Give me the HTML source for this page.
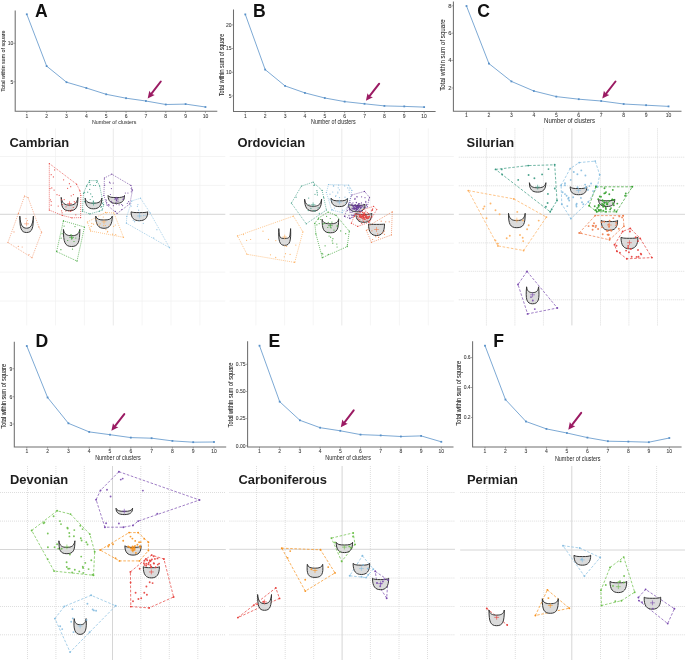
<!DOCTYPE html>
<html><head><meta charset="utf-8"><title>Figure</title>
<style>
html,body{margin:0;padding:0;background:#fff;}
body{width:685px;height:660px;overflow:hidden;}
svg{display:block;font-family:"Liberation Sans", sans-serif;will-change:transform;}
</style></head>
<body>
<svg width="685" height="660" viewBox="0 0 685 660">
<rect width="685" height="660" fill="#fff"/>
<line x1="26.7" y1="128.4" x2="26.7" y2="325.4" stroke="#f2f2f2" stroke-width="0.8"/>
<line x1="55.5" y1="128.4" x2="55.5" y2="325.4" stroke="#f2f2f2" stroke-width="0.8"/>
<line x1="84.4" y1="128.4" x2="84.4" y2="325.4" stroke="#f2f2f2" stroke-width="0.8"/>
<line x1="113.3" y1="128.4" x2="113.3" y2="325.4" stroke="#ebebeb" stroke-width="1.1"/>
<line x1="142.1" y1="128.4" x2="142.1" y2="325.4" stroke="#f2f2f2" stroke-width="0.8"/>
<line x1="171.0" y1="128.4" x2="171.0" y2="325.4" stroke="#f2f2f2" stroke-width="0.8"/>
<line x1="199.9" y1="128.4" x2="199.9" y2="325.4" stroke="#f2f2f2" stroke-width="0.8"/>
<line x1="0" y1="156.5" x2="225.3" y2="156.5" stroke="#f1f1f1" stroke-width="0.8"/>
<line x1="0" y1="185.4" x2="225.3" y2="185.4" stroke="#f1f1f1" stroke-width="0.8"/>
<line x1="0" y1="214.3" x2="225.3" y2="214.3" stroke="#d0d0d0" stroke-width="0.9"/>
<line x1="0" y1="243.2" x2="225.3" y2="243.2" stroke="#f1f1f1" stroke-width="0.8"/>
<line x1="0" y1="272.1" x2="225.3" y2="272.1" stroke="#f1f1f1" stroke-width="0.8"/>
<line x1="0" y1="301.0" x2="225.3" y2="301.0" stroke="#f1f1f1" stroke-width="0.8"/>
<text transform="translate(9.5,146.9) scale(1.062,1)" x="0" y="0" font-size="12.2" font-weight="bold" fill="#1e1e1e">Cambrian</text>
<line x1="255.9" y1="128.4" x2="255.9" y2="325.4" stroke="#f2f2f2" stroke-width="0.8"/>
<line x1="284.6" y1="128.4" x2="284.6" y2="325.4" stroke="#f2f2f2" stroke-width="0.8"/>
<line x1="313.2" y1="128.4" x2="313.2" y2="325.4" stroke="#f2f2f2" stroke-width="0.8"/>
<line x1="341.8" y1="128.4" x2="341.8" y2="325.4" stroke="#ebebeb" stroke-width="1.1"/>
<line x1="370.4" y1="128.4" x2="370.4" y2="325.4" stroke="#f2f2f2" stroke-width="0.8"/>
<line x1="399.4" y1="128.4" x2="399.4" y2="325.4" stroke="#f2f2f2" stroke-width="0.8"/>
<line x1="428.3" y1="128.4" x2="428.3" y2="325.4" stroke="#f2f2f2" stroke-width="0.8"/>
<line x1="229.6" y1="156.5" x2="453.9" y2="156.5" stroke="#f1f1f1" stroke-width="0.8"/>
<line x1="229.6" y1="185.4" x2="453.9" y2="185.4" stroke="#f1f1f1" stroke-width="0.8"/>
<line x1="229.6" y1="214.3" x2="453.9" y2="214.3" stroke="#d0d0d0" stroke-width="0.9"/>
<line x1="229.6" y1="243.2" x2="453.9" y2="243.2" stroke="#f1f1f1" stroke-width="0.8"/>
<line x1="229.6" y1="272.1" x2="453.9" y2="272.1" stroke="#f1f1f1" stroke-width="0.8"/>
<line x1="229.6" y1="301.0" x2="453.9" y2="301.0" stroke="#f1f1f1" stroke-width="0.8"/>
<text transform="translate(237.4,146.9) scale(1.062,1)" x="0" y="0" font-size="12.2" font-weight="bold" fill="#1e1e1e">Ordovician</text>
<line x1="486.4" y1="128.4" x2="486.4" y2="325.4" stroke="#d5d5d5" stroke-width="0.8" stroke-dasharray="1 1"/>
<line x1="514.9" y1="128.4" x2="514.9" y2="325.4" stroke="#d5d5d5" stroke-width="0.8" stroke-dasharray="1 1"/>
<line x1="543.4" y1="128.4" x2="543.4" y2="325.4" stroke="#d5d5d5" stroke-width="0.8" stroke-dasharray="1 1"/>
<line x1="571.9" y1="128.4" x2="571.9" y2="325.4" stroke="#d6d6d6" stroke-width="1.0"/>
<line x1="600.5" y1="128.4" x2="600.5" y2="325.4" stroke="#d5d5d5" stroke-width="0.8" stroke-dasharray="1 1"/>
<line x1="628.9" y1="128.4" x2="628.9" y2="325.4" stroke="#d5d5d5" stroke-width="0.8" stroke-dasharray="1 1"/>
<line x1="657.5" y1="128.4" x2="657.5" y2="325.4" stroke="#d5d5d5" stroke-width="0.8" stroke-dasharray="1 1"/>
<line x1="458.8" y1="157.2" x2="685.0" y2="157.2" stroke="#d5d5d5" stroke-width="0.8" stroke-dasharray="1 1"/>
<line x1="458.8" y1="185.8" x2="685.0" y2="185.8" stroke="#d5d5d5" stroke-width="0.8" stroke-dasharray="1 1"/>
<line x1="458.8" y1="214.3" x2="685.0" y2="214.3" stroke="#d6d6d6" stroke-width="1.0"/>
<line x1="458.8" y1="242.9" x2="685.0" y2="242.9" stroke="#d5d5d5" stroke-width="0.8" stroke-dasharray="1 1"/>
<line x1="458.8" y1="271.3" x2="685.0" y2="271.3" stroke="#d5d5d5" stroke-width="0.8" stroke-dasharray="1 1"/>
<line x1="458.8" y1="299.8" x2="685.0" y2="299.8" stroke="#d5d5d5" stroke-width="0.8" stroke-dasharray="1 1"/>
<text transform="translate(466.59999999999997,146.9) scale(1.062,1)" x="0" y="0" font-size="12.2" font-weight="bold" fill="#1e1e1e">Silurian</text>
<line x1="27.5" y1="466.0" x2="27.5" y2="660.0" stroke="#d5d5d5" stroke-width="0.8" stroke-dasharray="1 1"/>
<line x1="55.9" y1="466.0" x2="55.9" y2="660.0" stroke="#d5d5d5" stroke-width="0.8" stroke-dasharray="1 1"/>
<line x1="84.3" y1="466.0" x2="84.3" y2="660.0" stroke="#d5d5d5" stroke-width="0.8" stroke-dasharray="1 1"/>
<line x1="112.5" y1="466.0" x2="112.5" y2="660.0" stroke="#d6d6d6" stroke-width="1.0"/>
<line x1="140.8" y1="466.0" x2="140.8" y2="660.0" stroke="#d5d5d5" stroke-width="0.8" stroke-dasharray="1 1"/>
<line x1="169.3" y1="466.0" x2="169.3" y2="660.0" stroke="#d5d5d5" stroke-width="0.8" stroke-dasharray="1 1"/>
<line x1="197.8" y1="466.0" x2="197.8" y2="660.0" stroke="#d5d5d5" stroke-width="0.8" stroke-dasharray="1 1"/>
<line x1="0" y1="492.5" x2="225.8" y2="492.5" stroke="#d5d5d5" stroke-width="0.8" stroke-dasharray="1 1"/>
<line x1="0" y1="521.1" x2="225.8" y2="521.1" stroke="#d5d5d5" stroke-width="0.8" stroke-dasharray="1 1"/>
<line x1="0" y1="549.5" x2="225.8" y2="549.5" stroke="#d6d6d6" stroke-width="1.0"/>
<line x1="0" y1="578.0" x2="225.8" y2="578.0" stroke="#d5d5d5" stroke-width="0.8" stroke-dasharray="1 1"/>
<line x1="0" y1="606.5" x2="225.8" y2="606.5" stroke="#d5d5d5" stroke-width="0.8" stroke-dasharray="1 1"/>
<line x1="0" y1="634.8" x2="225.8" y2="634.8" stroke="#d5d5d5" stroke-width="0.8" stroke-dasharray="1 1"/>
<text transform="translate(9.9,484.2) scale(1.062,1)" x="0" y="0" font-size="12.2" font-weight="bold" fill="#1e1e1e">Devonian</text>
<line x1="256.5" y1="466.0" x2="256.5" y2="660.0" stroke="#d5d5d5" stroke-width="0.8" stroke-dasharray="1 1"/>
<line x1="285.2" y1="466.0" x2="285.2" y2="660.0" stroke="#d5d5d5" stroke-width="0.8" stroke-dasharray="1 1"/>
<line x1="313.7" y1="466.0" x2="313.7" y2="660.0" stroke="#d5d5d5" stroke-width="0.8" stroke-dasharray="1 1"/>
<line x1="342.1" y1="466.0" x2="342.1" y2="660.0" stroke="#d6d6d6" stroke-width="1.0"/>
<line x1="370.4" y1="466.0" x2="370.4" y2="660.0" stroke="#d5d5d5" stroke-width="0.8" stroke-dasharray="1 1"/>
<line x1="399.0" y1="466.0" x2="399.0" y2="660.0" stroke="#d5d5d5" stroke-width="0.8" stroke-dasharray="1 1"/>
<line x1="427.5" y1="466.0" x2="427.5" y2="660.0" stroke="#d5d5d5" stroke-width="0.8" stroke-dasharray="1 1"/>
<line x1="229.4" y1="492.5" x2="455.0" y2="492.5" stroke="#d5d5d5" stroke-width="0.8" stroke-dasharray="1 1"/>
<line x1="229.4" y1="521.1" x2="455.0" y2="521.1" stroke="#d5d5d5" stroke-width="0.8" stroke-dasharray="1 1"/>
<line x1="229.4" y1="549.3" x2="455.0" y2="549.3" stroke="#d6d6d6" stroke-width="1.0"/>
<line x1="229.4" y1="578.0" x2="455.0" y2="578.0" stroke="#d5d5d5" stroke-width="0.8" stroke-dasharray="1 1"/>
<line x1="229.4" y1="606.5" x2="455.0" y2="606.5" stroke="#d5d5d5" stroke-width="0.8" stroke-dasharray="1 1"/>
<line x1="229.4" y1="634.8" x2="455.0" y2="634.8" stroke="#d5d5d5" stroke-width="0.8" stroke-dasharray="1 1"/>
<text transform="translate(238.4,484.2) scale(1.062,1)" x="0" y="0" font-size="12.2" font-weight="bold" fill="#1e1e1e">Carboniferous</text>
<line x1="486.8" y1="466.0" x2="486.8" y2="660.0" stroke="#d5d5d5" stroke-width="0.8" stroke-dasharray="1 1"/>
<line x1="515.3" y1="466.0" x2="515.3" y2="660.0" stroke="#d5d5d5" stroke-width="0.8" stroke-dasharray="1 1"/>
<line x1="543.7" y1="466.0" x2="543.7" y2="660.0" stroke="#d5d5d5" stroke-width="0.8" stroke-dasharray="1 1"/>
<line x1="571.8" y1="466.0" x2="571.8" y2="660.0" stroke="#d6d6d6" stroke-width="1.0"/>
<line x1="600.5" y1="466.0" x2="600.5" y2="660.0" stroke="#d5d5d5" stroke-width="0.8" stroke-dasharray="1 1"/>
<line x1="628.7" y1="466.0" x2="628.7" y2="660.0" stroke="#d5d5d5" stroke-width="0.8" stroke-dasharray="1 1"/>
<line x1="656.6" y1="466.0" x2="656.6" y2="660.0" stroke="#d5d5d5" stroke-width="0.8" stroke-dasharray="1 1"/>
<line x1="460.2" y1="492.5" x2="685.0" y2="492.5" stroke="#d5d5d5" stroke-width="0.8" stroke-dasharray="1 1"/>
<line x1="460.2" y1="521.1" x2="685.0" y2="521.1" stroke="#d5d5d5" stroke-width="0.8" stroke-dasharray="1 1"/>
<line x1="460.2" y1="550.0" x2="685.0" y2="550.0" stroke="#d6d6d6" stroke-width="1.0"/>
<line x1="460.2" y1="578.0" x2="685.0" y2="578.0" stroke="#d5d5d5" stroke-width="0.8" stroke-dasharray="1 1"/>
<line x1="460.2" y1="606.5" x2="685.0" y2="606.5" stroke="#d5d5d5" stroke-width="0.8" stroke-dasharray="1 1"/>
<line x1="460.2" y1="634.8" x2="685.0" y2="634.8" stroke="#d5d5d5" stroke-width="0.8" stroke-dasharray="1 1"/>
<text transform="translate(466.9,484.2) scale(1.062,1)" x="0" y="0" font-size="12.2" font-weight="bold" fill="#1e1e1e">Permian</text>
<polygon points="24.5,196.1 28,197.5 38.9,227 41.6,232.2 32,257.7 7.9,242.5 18.4,213.4" fill="none" stroke="#f29368" stroke-dasharray="0.9 1.1" stroke-width="0.75"/>
<polygon points="49.3,163.5 76.6,184.2 79.8,190.5 80.8,195.3 80.6,217.6 71.8,217.8 62.3,215.4 49.3,210.1" fill="none" stroke="#e6403c" stroke-dasharray="0.9 1.1" stroke-width="0.75"/>
<polygon points="89.5,180.6 97,180.6 99.6,185.9 103.6,204.8 102.3,209.8 99.4,211.2 89.8,213.9 82.4,211.2 83.5,193.2 86.7,185.8" fill="none" stroke="#3a9a82" stroke-dasharray="0.9 1.1" stroke-width="0.75"/>
<polygon points="104.4,178 111.8,174.2 130.9,185.4 132.5,190.1 129.8,203.9 117.1,213.5 107,205 103.9,195.5" fill="none" stroke="#6a3d9a" stroke-dasharray="0.9 1.1" stroke-width="0.75"/>
<polygon points="87.4,222 105.5,212.4 113.9,213 123.5,237.3 90.6,231" fill="none" stroke="#fdae5c" stroke-dasharray="0.9 1.1" stroke-width="0.75"/>
<polygon points="63.4,220.9 84.5,227 77,261.1 56.6,251.6" fill="none" stroke="#33a02c" stroke-dasharray="0.9 1.1" stroke-width="0.75"/>
<polygon points="126.4,223.2 126.8,216.4 131.8,200.9 140.5,198.2 150,212.7 169.5,247.7" fill="none" stroke="#86bde0" stroke-dasharray="0.9 1.1" stroke-width="0.75"/>
<polygon points="237.5,235.9 293.4,216.1 302.9,231.8 294.7,262.4 247,254.3" fill="none" stroke="#fdae5c" stroke-dasharray="0.9 1.1" stroke-width="0.75"/>
<polygon points="291.4,203.1 301.4,186.1 313.1,182.2 322.1,190.4 323.7,197.3 326.4,210 306.2,223.8" fill="none" stroke="#3a9a82" stroke-dasharray="0.9 1.1" stroke-width="0.75"/>
<polygon points="328.5,184.5 348.6,185.1 351.8,190.4 349,205 342.3,212.6 331.7,210 326.4,192.5" fill="none" stroke="#86bde0" stroke-dasharray="0.9 1.1" stroke-width="0.75"/>
<polygon points="314.8,223.3 318.6,218 328.1,212.1 336,215.3 349.3,231.2 347.2,246.6 322.3,257.7 315.9,233.9" fill="none" stroke="#33a02c" stroke-dasharray="0.9 1.1" stroke-width="0.75"/>
<polygon points="351.8,195 364.5,191.4 369.5,197.3 367.3,206.8 358,214 350,218.6 344.5,216.4 348.6,204.1" fill="none" stroke="#6a3d9a" stroke-dasharray="0.9 1.1" stroke-width="0.75"/>
<polygon points="351.4,223.2 357.7,226.4 369.1,222.3 376.8,209.5 373.6,206.4 363.2,209.5 355,214" fill="none" stroke="#e6403c" stroke-dasharray="0.9 1.1" stroke-width="0.75"/>
<polygon points="366.4,230.5 371.4,242.3 391.4,235 392.3,211.8 370,225" fill="none" stroke="#ee8050" stroke-dasharray="0.9 1.1" stroke-width="0.75"/>
<polygon points="495.6,169.4 528.2,165.6 554.7,164.8 557,200.5 550.2,211.8" fill="none" stroke="#3a9a82" stroke-dasharray="2.6 1.6" stroke-width="0.72"/>
<polygon points="468.3,190.6 513.8,198.9 546.4,217.1 523.6,250.5 497.9,245.9" fill="none" stroke="#fdae5c" stroke-dasharray="2.6 1.6" stroke-width="0.72"/>
<polygon points="561.1,185.3 570.2,168.6 579.2,162.6 595.2,161.1 599.7,174.7 597.4,186.8 588.3,202 570.9,218.6 561.8,204.2" fill="none" stroke="#86bde0" stroke-dasharray="2.6 1.6" stroke-width="0.72"/>
<polygon points="595.9,186.8 632.3,186.8 616.4,211.8 596.7,211.8 589.1,205.8" fill="none" stroke="#33a02c" stroke-dasharray="2.6 1.6" stroke-width="0.72"/>
<polygon points="579.2,233 595.2,215.6 623.2,215.6 623.9,226.2 609.5,239.8" fill="none" stroke="#ee8050" stroke-dasharray="2.6 1.6" stroke-width="0.72"/>
<polygon points="614.5,244.8 622.7,231.4 630.3,228.4 640.2,238.4 651.9,257.6 626.8,258.8 616.9,251.2" fill="none" stroke="#e6403c" stroke-dasharray="2.6 1.6" stroke-width="0.72"/>
<polygon points="527,271.4 518,284.5 527.6,313.9 557.3,308" fill="none" stroke="#7b4cb0" stroke-dasharray="2.6 1.6" stroke-width="0.72"/>
<polygon points="31.7,530.5 57.1,510.8 70.5,514.1 89.8,534.1 94.7,551.7 93.5,575.3 54.1,571.1" fill="none" stroke="#6cc04a" stroke-dasharray="2.6 1.6" stroke-width="0.72"/>
<polygon points="118.9,471.7 199.5,500 138.2,521.1 132.9,525.4 123.3,527.2 104.9,527.2 96.1,499.7 100.5,490.4" fill="none" stroke="#7b4cb0" stroke-dasharray="2.6 1.6" stroke-width="0.72"/>
<polygon points="100.2,550 129.1,532.6 138.1,532.6 148.4,542.2 148.4,550.6 139.4,560.9 119.5,560.9" fill="none" stroke="#f7921e" stroke-dasharray="2.6 1.6" stroke-width="0.72"/>
<polygon points="130.4,571.9 145.9,559 151.7,555.1 163.9,559 173.6,597 149.1,607.9 130.8,606.6" fill="none" stroke="#e6403c" stroke-dasharray="2.6 1.6" stroke-width="0.72"/>
<polygon points="54.9,618.6 64.3,606.4 91.1,595.3 115.7,605.8 70.1,652.1" fill="none" stroke="#86bde0" stroke-dasharray="2.6 1.6" stroke-width="0.72"/>
<polygon points="237.9,617.6 275.8,587.9 279.5,598.4" fill="none" stroke="#e6403c" stroke-dasharray="2.6 1.6" stroke-width="0.72"/>
<polygon points="281.8,548.2 320.5,549.8 335,572.9 305.3,591.1" fill="none" stroke="#f7921e" stroke-dasharray="2.6 1.6" stroke-width="0.72"/>
<polygon points="331.4,538.1 353.2,532.9 355,544.4 341.7,561.4" fill="none" stroke="#6cc04a" stroke-dasharray="2.6 1.6" stroke-width="0.72"/>
<polygon points="362.4,555.8 373.3,569.1 366.1,577.6 349.7,575.8" fill="none" stroke="#86bde0" stroke-dasharray="2.6 1.6" stroke-width="0.72"/>
<polygon points="375.2,571.3 387.9,580 386.7,598.2 377,583" fill="none" stroke="#7b4cb0" stroke-dasharray="2.6 1.6" stroke-width="0.72"/>
<line x1="486.8" y1="608.5" x2="507.2" y2="625" stroke="#e6403c" fill="none" stroke-dasharray="2.6 1.6" stroke-width="0.72"/>
<polygon points="547.4,589.9 569.3,608.2 535.4,615.5" fill="none" stroke="#f7921e" stroke-dasharray="2.6 1.6" stroke-width="0.72"/>
<polygon points="563,545.7 579.7,548 600.2,557.5 584.4,576.1" fill="none" stroke="#86bde0" stroke-dasharray="2.6 1.6" stroke-width="0.72"/>
<polygon points="610,567.5 623.7,557.1 634.7,592.2 621.4,600.7 601.5,605.5 600.9,590.3" fill="none" stroke="#6cc04a" stroke-dasharray="2.6 1.6" stroke-width="0.72"/>
<polygon points="638.4,597.4 645.6,589.4 674.4,608.7 667.7,623.6 638.9,600.6" fill="none" stroke="#7b4cb0" stroke-dasharray="2.6 1.6" stroke-width="0.72"/>
<path d="M19.80,216.10 C19.80,228.24 21.02,232.50 26.60,232.50 C32.18,232.50 33.40,228.24 33.40,216.10 C32.72,225.78 30.41,228.20 26.60,228.20 C22.79,228.20 20.48,225.78 19.80,216.10Z" fill="#dbdbdb" stroke="#353535" stroke-width="1.0" stroke-linejoin="round"/>
<path d="M61.20,197.40 C61.20,207.24 62.70,210.70 69.55,210.70 C76.40,210.70 77.90,207.24 77.90,197.40 C77.07,203.56 74.23,205.10 69.55,205.10 C64.87,205.10 62.04,203.56 61.20,197.40Z" fill="#dbdbdb" stroke="#353535" stroke-width="1.0" stroke-linejoin="round"/>
<path d="M85.20,198.20 C85.20,205.83 88.02,208.80 93.50,208.80 C98.98,208.80 101.80,205.83 101.80,198.20 C100.97,202.20 98.15,203.20 93.50,203.20 C88.85,203.20 86.03,202.20 85.20,198.20Z" fill="#dbdbdb" stroke="#353535" stroke-width="1.0" stroke-linejoin="round"/>
<path d="M108.10,195.50 C108.10,201.19 110.89,203.40 116.30,203.40 C121.71,203.40 124.50,201.19 124.50,195.50 C123.68,197.18 120.89,197.60 116.30,197.60 C111.71,197.60 108.92,197.18 108.10,195.50Z" fill="#dbdbdb" stroke="#353535" stroke-width="1.0" stroke-linejoin="round"/>
<path d="M95.70,216.10 C95.70,224.88 98.52,228.30 104.00,228.30 C109.48,228.30 112.30,224.88 112.30,216.10 C111.47,219.22 108.65,220.00 104.00,220.00 C99.35,220.00 96.53,219.22 95.70,216.10Z" fill="#dbdbdb" stroke="#353535" stroke-width="1.0" stroke-linejoin="round"/>
<path d="M63.40,229.40 C63.40,242.05 64.88,246.50 71.60,246.50 C78.32,246.50 79.80,242.05 79.80,229.40 C78.98,234.44 76.19,235.70 71.60,235.70 C67.01,235.70 64.22,234.44 63.40,229.40Z" fill="#dbdbdb" stroke="#353535" stroke-width="1.0" stroke-linejoin="round"/>
<path d="M131.10,211.80 C131.10,218.21 133.92,220.70 139.40,220.70 C144.88,220.70 147.70,218.21 147.70,211.80 C146.87,212.44 144.05,212.60 139.40,212.60 C134.75,212.60 131.93,212.44 131.10,211.80Z" fill="#dbdbdb" stroke="#353535" stroke-width="1.0" stroke-linejoin="round"/>
<path d="M278.80,228.60 C278.30,240.36 279.26,245.40 284.70,245.40 C290.14,245.40 291.10,240.36 290.60,228.60 C290.01,238.11 289.72,238.40 284.70,238.40 C279.69,238.40 279.39,238.11 278.80,228.60Z" fill="#dbdbdb" stroke="#353535" stroke-width="1.0" stroke-linejoin="round"/>
<path d="M304.60,199.20 C304.60,207.77 307.49,211.10 313.10,211.10 C318.71,211.10 321.60,207.77 321.60,199.20 C320.75,204.88 317.86,206.30 313.10,206.30 C308.34,206.30 305.45,204.88 304.60,199.20Z" fill="#dbdbdb" stroke="#353535" stroke-width="1.0" stroke-linejoin="round"/>
<path d="M331.10,198.20 C331.10,204.25 333.91,206.60 339.35,206.60 C344.80,206.60 347.60,204.25 347.60,198.20 C346.78,200.36 343.97,200.90 339.35,200.90 C334.73,200.90 331.93,200.36 331.10,198.20Z" fill="#dbdbdb" stroke="#353535" stroke-width="1.0" stroke-linejoin="round"/>
<path d="M322.10,219.30 C322.10,229.29 323.59,232.80 330.35,232.80 C337.12,232.80 338.60,229.29 338.60,219.30 C337.78,222.90 334.97,223.80 330.35,223.80 C325.73,223.80 322.93,222.90 322.10,219.30Z" fill="#dbdbdb" stroke="#353535" stroke-width="1.0" stroke-linejoin="round"/>
<path d="M348.60,204.30 C348.60,209.70 351.39,211.80 356.80,211.80 C362.21,211.80 365.00,209.70 365.00,204.30 C364.18,205.18 361.39,205.40 356.80,205.40 C352.21,205.40 349.42,205.18 348.60,204.30Z" fill="#dbdbdb" stroke="#353535" stroke-width="1.0" stroke-linejoin="round"/>
<path d="M355.90,213.40 C355.90,219.81 358.60,222.30 363.85,222.30 C369.10,222.30 371.80,219.81 371.80,213.40 C371.00,214.20 368.30,214.40 363.85,214.40 C359.40,214.40 356.69,214.20 355.90,213.40Z" fill="#dbdbdb" stroke="#353535" stroke-width="1.0" stroke-linejoin="round"/>
<path d="M368.60,224.00 C368.60,232.28 371.30,235.50 376.55,235.50 C381.80,235.50 384.50,232.28 384.50,224.00 C383.70,224.32 381.00,224.40 376.55,224.40 C372.10,224.40 369.40,224.32 368.60,224.00Z" fill="#dbdbdb" stroke="#353535" stroke-width="1.0" stroke-linejoin="round"/>
<path d="M529.40,182.70 C529.40,189.47 532.20,192.10 537.65,192.10 C543.10,192.10 545.90,189.47 545.90,182.70 C545.07,186.78 542.27,187.80 537.65,187.80 C533.03,187.80 530.23,186.78 529.40,182.70Z" fill="#dbdbdb" stroke="#353535" stroke-width="1.0" stroke-linejoin="round"/>
<path d="M508.50,213.30 C508.50,223.96 510.00,227.70 516.85,227.70 C523.70,227.70 525.20,223.96 525.20,213.30 C524.37,219.14 521.53,220.60 516.85,220.60 C512.17,220.60 509.33,219.14 508.50,213.30Z" fill="#dbdbdb" stroke="#353535" stroke-width="1.0" stroke-linejoin="round"/>
<path d="M570.20,186.80 C570.20,192.49 573.02,194.70 578.50,194.70 C583.98,194.70 586.80,192.49 586.80,186.80 C585.97,188.24 583.15,188.60 578.50,188.60 C573.85,188.60 571.03,188.24 570.20,186.80Z" fill="#dbdbdb" stroke="#353535" stroke-width="1.0" stroke-linejoin="round"/>
<path d="M598.60,199.20 C598.60,204.46 601.35,206.50 606.70,206.50 C612.05,206.50 614.80,204.46 614.80,199.20 C613.99,200.48 611.24,200.80 606.70,200.80 C602.16,200.80 599.41,200.48 598.60,199.20Z" fill="#dbdbdb" stroke="#353535" stroke-width="1.0" stroke-linejoin="round"/>
<path d="M601.20,220.40 C601.20,227.53 603.99,230.30 609.40,230.30 C614.81,230.30 617.60,227.53 617.60,220.40 C616.78,221.36 613.99,221.60 609.40,221.60 C604.81,221.60 602.02,221.36 601.20,220.40Z" fill="#dbdbdb" stroke="#353535" stroke-width="1.0" stroke-linejoin="round"/>
<path d="M621.00,237.30 C621.00,245.58 623.87,248.80 629.45,248.80 C635.03,248.80 637.90,245.58 637.90,237.30 C637.05,238.10 634.18,238.30 629.45,238.30 C624.72,238.30 621.85,238.10 621.00,237.30Z" fill="#dbdbdb" stroke="#353535" stroke-width="1.0" stroke-linejoin="round"/>
<path d="M526.60,286.80 C525.40,299.38 526.70,303.80 532.60,303.80 C538.50,303.80 539.80,299.38 538.60,286.80 C538.00,291.44 535.96,292.60 532.60,292.60 C529.24,292.60 527.20,291.44 526.60,286.80Z" fill="#dbdbdb" stroke="#353535" stroke-width="1.0" stroke-linejoin="round"/>
<path d="M58.90,540.80 C58.90,550.35 60.34,553.70 66.90,553.70 C73.46,553.70 74.90,550.35 74.90,540.80 C74.10,546.08 71.38,547.40 66.90,547.40 C62.42,547.40 59.70,546.08 58.90,540.80Z" fill="#dbdbdb" stroke="#353535" stroke-width="1.0" stroke-linejoin="round"/>
<path d="M116.00,508.20 C116.00,512.81 118.82,514.60 124.30,514.60 C129.78,514.60 132.60,512.81 132.60,508.20 C131.77,510.76 128.95,511.40 124.30,511.40 C119.65,511.40 116.83,510.76 116.00,508.20Z" fill="#dbdbdb" stroke="#353535" stroke-width="1.0" stroke-linejoin="round"/>
<path d="M124.90,545.70 C124.90,552.47 127.65,555.10 133.00,555.10 C138.35,555.10 141.10,552.47 141.10,545.70 C140.29,547.06 137.54,547.40 133.00,547.40 C128.46,547.40 125.71,547.06 124.90,545.70Z" fill="#dbdbdb" stroke="#353535" stroke-width="1.0" stroke-linejoin="round"/>
<path d="M143.30,566.70 C143.30,574.76 146.04,577.90 151.35,577.90 C156.66,577.90 159.40,574.76 159.40,566.70 C158.59,567.50 155.86,567.70 151.35,567.70 C146.84,567.70 144.11,567.50 143.30,566.70Z" fill="#dbdbdb" stroke="#353535" stroke-width="1.0" stroke-linejoin="round"/>
<path d="M74.20,618.60 C73.30,628.40 74.67,634.40 80.15,634.40 C85.63,634.40 87.00,628.40 86.10,618.60 C85.50,623.48 83.48,624.70 80.15,624.70 C76.82,624.70 74.80,623.48 74.20,618.60Z" fill="#dbdbdb" stroke="#353535" stroke-width="1.0" stroke-linejoin="round"/>
<path d="M257.60,594.50 C257.60,606.19 258.85,610.30 264.55,610.30 C270.25,610.30 271.50,606.19 271.50,594.50 C270.81,601.78 268.44,603.60 264.55,603.60 C260.66,603.60 258.30,601.78 257.60,594.50Z" fill="#dbdbdb" stroke="#353535" stroke-width="1.0" stroke-linejoin="round"/>
<path d="M307.30,564.30 C306.50,573.99 308.03,577.40 315.00,577.40 C321.97,577.40 323.50,573.99 322.70,564.30 C321.93,567.42 319.31,568.20 315.00,568.20 C310.69,568.20 308.07,567.42 307.30,564.30Z" fill="#dbdbdb" stroke="#353535" stroke-width="1.0" stroke-linejoin="round"/>
<path d="M336.20,542.30 C336.20,549.72 338.99,552.60 344.40,552.60 C349.81,552.60 352.60,549.72 352.60,542.30 C351.78,544.46 348.99,545.00 344.40,545.00 C339.81,545.00 337.02,544.46 336.20,542.30Z" fill="#dbdbdb" stroke="#353535" stroke-width="1.0" stroke-linejoin="round"/>
<path d="M353.10,563.30 C353.10,571.36 355.92,574.50 361.40,574.50 C366.88,574.50 369.70,571.36 369.70,563.30 C368.87,564.82 366.05,565.20 361.40,565.20 C356.75,565.20 353.93,564.82 353.10,563.30Z" fill="#dbdbdb" stroke="#353535" stroke-width="1.0" stroke-linejoin="round"/>
<path d="M372.50,578.20 C372.50,586.48 375.25,589.70 380.60,589.70 C385.95,589.70 388.70,586.48 388.70,578.20 C387.89,579.32 385.14,579.60 380.60,579.60 C376.06,579.60 373.31,579.32 372.50,578.20Z" fill="#dbdbdb" stroke="#353535" stroke-width="1.0" stroke-linejoin="round"/>
<path d="M489.00,610.00 C489.00,621.62 490.38,625.70 496.65,625.70 C502.92,625.70 504.30,621.62 504.30,610.00 C503.54,614.08 500.93,615.10 496.65,615.10 C492.37,615.10 489.76,614.08 489.00,610.00Z" fill="#dbdbdb" stroke="#353535" stroke-width="1.0" stroke-linejoin="round"/>
<path d="M542.30,598.70 C542.30,609.50 543.74,613.30 550.30,613.30 C556.86,613.30 558.30,609.50 558.30,598.70 C557.50,602.70 554.78,603.70 550.30,603.70 C545.82,603.70 543.10,602.70 542.30,598.70Z" fill="#dbdbdb" stroke="#353535" stroke-width="1.0" stroke-linejoin="round"/>
<path d="M574.00,555.20 C574.00,562.40 576.84,565.20 582.35,565.20 C587.86,565.20 590.70,562.40 590.70,555.20 C589.87,556.32 587.03,556.60 582.35,556.60 C577.67,556.60 574.84,556.32 574.00,555.20Z" fill="#dbdbdb" stroke="#353535" stroke-width="1.0" stroke-linejoin="round"/>
<path d="M610.00,581.40 C610.00,589.46 612.84,592.60 618.35,592.60 C623.86,592.60 626.70,589.46 626.70,581.40 C625.87,582.52 623.03,582.80 618.35,582.80 C613.67,582.80 610.84,582.52 610.00,581.40Z" fill="#dbdbdb" stroke="#353535" stroke-width="1.0" stroke-linejoin="round"/>
<path d="M644.20,597.20 C643.90,605.84 646.81,609.20 652.45,609.20 C658.09,609.20 661.00,605.84 660.70,597.20 C659.88,598.08 657.07,598.30 652.45,598.30 C647.83,598.30 645.03,598.08 644.20,597.20Z" fill="#dbdbdb" stroke="#353535" stroke-width="1.0" stroke-linejoin="round"/>
<circle cx="24.5" cy="196.1" r="0.6" fill="#f29368"/>
<circle cx="28" cy="197.5" r="0.6" fill="#f29368"/>
<circle cx="38.9" cy="227" r="0.6" fill="#f29368"/>
<circle cx="41.6" cy="232.2" r="0.6" fill="#f29368"/>
<circle cx="32" cy="257.7" r="0.6" fill="#f29368"/>
<circle cx="7.9" cy="242.5" r="0.6" fill="#f29368"/>
<circle cx="18.4" cy="213.4" r="0.6" fill="#f29368"/>
<circle cx="26.0" cy="218.6" r="0.6" fill="#f29368" fill-opacity="0.9"/>
<circle cx="22.2" cy="247.0" r="0.6" fill="#f29368" fill-opacity="0.9"/>
<circle cx="29.0" cy="254.5" r="0.6" fill="#f29368" fill-opacity="0.9"/>
<circle cx="27.3" cy="220.5" r="0.6" fill="#f29368" fill-opacity="0.9"/>
<circle cx="18.3" cy="246.4" r="0.6" fill="#f29368" fill-opacity="0.9"/>
<circle cx="14.0" cy="231.9" r="0.6" fill="#f29368" fill-opacity="0.9"/>
<circle cx="49.3" cy="163.5" r="0.6" fill="#e6403c"/>
<circle cx="76.6" cy="184.2" r="0.6" fill="#e6403c"/>
<circle cx="79.8" cy="190.5" r="0.6" fill="#e6403c"/>
<circle cx="80.8" cy="195.3" r="0.6" fill="#e6403c"/>
<circle cx="80.6" cy="217.6" r="0.6" fill="#e6403c"/>
<circle cx="71.8" cy="217.8" r="0.6" fill="#e6403c"/>
<circle cx="62.3" cy="215.4" r="0.6" fill="#e6403c"/>
<circle cx="49.3" cy="210.1" r="0.6" fill="#e6403c"/>
<circle cx="69.4" cy="183.7" r="0.6" fill="#e6403c" fill-opacity="0.9"/>
<circle cx="51.2" cy="174.7" r="0.6" fill="#e6403c" fill-opacity="0.9"/>
<circle cx="70.7" cy="186.7" r="0.6" fill="#e6403c" fill-opacity="0.9"/>
<circle cx="59.2" cy="195.3" r="0.6" fill="#e6403c" fill-opacity="0.9"/>
<circle cx="63.6" cy="179.8" r="0.6" fill="#e6403c" fill-opacity="0.9"/>
<circle cx="74.3" cy="201.5" r="0.6" fill="#e6403c" fill-opacity="0.9"/>
<circle cx="57.0" cy="194.7" r="0.6" fill="#e6403c" fill-opacity="0.9"/>
<circle cx="65.8" cy="211.0" r="0.6" fill="#e6403c" fill-opacity="0.9"/>
<circle cx="62.5" cy="204.6" r="0.6" fill="#e6403c" fill-opacity="0.9"/>
<circle cx="54.1" cy="190.1" r="0.6" fill="#e6403c" fill-opacity="0.9"/>
<circle cx="50.5" cy="199.8" r="0.6" fill="#e6403c" fill-opacity="0.9"/>
<circle cx="73.4" cy="194.6" r="0.6" fill="#e6403c" fill-opacity="0.9"/>
<circle cx="71.2" cy="195.8" r="0.6" fill="#e6403c" fill-opacity="0.9"/>
<circle cx="67.6" cy="188.3" r="0.6" fill="#e6403c" fill-opacity="0.9"/>
<circle cx="75.8" cy="214.8" r="0.6" fill="#e6403c" fill-opacity="0.9"/>
<circle cx="64.2" cy="199.6" r="0.6" fill="#e6403c" fill-opacity="0.9"/>
<circle cx="51.2" cy="201.6" r="0.6" fill="#e6403c" fill-opacity="0.9"/>
<circle cx="61.5" cy="199.8" r="0.6" fill="#e6403c" fill-opacity="0.9"/>
<circle cx="50.0" cy="188.6" r="0.6" fill="#e6403c" fill-opacity="0.9"/>
<circle cx="54.6" cy="169.9" r="0.6" fill="#e6403c" fill-opacity="0.9"/>
<circle cx="51.2" cy="205.2" r="0.6" fill="#e6403c" fill-opacity="0.9"/>
<circle cx="53.4" cy="176.9" r="0.6" fill="#e6403c" fill-opacity="0.9"/>
<circle cx="61.6" cy="210.8" r="0.6" fill="#e6403c" fill-opacity="0.9"/>
<circle cx="51.8" cy="187.9" r="0.6" fill="#e6403c" fill-opacity="0.9"/>
<circle cx="58.2" cy="206.1" r="0.6" fill="#e6403c" fill-opacity="0.9"/>
<circle cx="75.1" cy="202.6" r="0.6" fill="#e6403c" fill-opacity="0.9"/>
<circle cx="68.9" cy="211.1" r="0.6" fill="#e6403c" fill-opacity="0.9"/>
<circle cx="62.1" cy="212.8" r="0.6" fill="#e6403c" fill-opacity="0.9"/>
<circle cx="73.3" cy="207.5" r="0.6" fill="#e6403c" fill-opacity="0.9"/>
<circle cx="71.9" cy="209.9" r="0.6" fill="#e6403c" fill-opacity="0.9"/>
<circle cx="70.7" cy="211.4" r="0.6" fill="#e6403c" fill-opacity="0.9"/>
<circle cx="66.0" cy="206.8" r="0.6" fill="#e6403c" fill-opacity="0.9"/>
<circle cx="89.5" cy="180.6" r="0.6" fill="#3a9a82"/>
<circle cx="97" cy="180.6" r="0.6" fill="#3a9a82"/>
<circle cx="99.6" cy="185.9" r="0.6" fill="#3a9a82"/>
<circle cx="103.6" cy="204.8" r="0.6" fill="#3a9a82"/>
<circle cx="102.3" cy="209.8" r="0.6" fill="#3a9a82"/>
<circle cx="99.4" cy="211.2" r="0.6" fill="#3a9a82"/>
<circle cx="89.8" cy="213.9" r="0.6" fill="#3a9a82"/>
<circle cx="82.4" cy="211.2" r="0.6" fill="#3a9a82"/>
<circle cx="83.5" cy="193.2" r="0.6" fill="#3a9a82"/>
<circle cx="86.7" cy="185.8" r="0.6" fill="#3a9a82"/>
<circle cx="90.2" cy="199.5" r="0.6" fill="#3a9a82" fill-opacity="0.9"/>
<circle cx="102.6" cy="203.6" r="0.6" fill="#3a9a82" fill-opacity="0.9"/>
<circle cx="93.3" cy="201.2" r="0.6" fill="#3a9a82" fill-opacity="0.9"/>
<circle cx="96.7" cy="182.4" r="0.6" fill="#3a9a82" fill-opacity="0.9"/>
<circle cx="101.5" cy="206.6" r="0.6" fill="#3a9a82" fill-opacity="0.9"/>
<circle cx="100.9" cy="207.2" r="0.6" fill="#3a9a82" fill-opacity="0.9"/>
<circle cx="90.7" cy="193.9" r="0.6" fill="#3a9a82" fill-opacity="0.9"/>
<circle cx="84.6" cy="201.7" r="0.6" fill="#3a9a82" fill-opacity="0.9"/>
<circle cx="86.8" cy="186.0" r="0.6" fill="#3a9a82" fill-opacity="0.9"/>
<circle cx="89.6" cy="182.4" r="0.6" fill="#3a9a82" fill-opacity="0.9"/>
<circle cx="84.6" cy="192.7" r="0.6" fill="#3a9a82" fill-opacity="0.9"/>
<circle cx="82.9" cy="209.7" r="0.6" fill="#3a9a82" fill-opacity="0.9"/>
<circle cx="95.4" cy="185.5" r="0.6" fill="#3a9a82" fill-opacity="0.9"/>
<circle cx="87.7" cy="192.2" r="0.6" fill="#3a9a82" fill-opacity="0.9"/>
<circle cx="90.1" cy="184.7" r="0.6" fill="#3a9a82" fill-opacity="0.9"/>
<circle cx="92.3" cy="196.7" r="0.6" fill="#3a9a82" fill-opacity="0.9"/>
<circle cx="89.7" cy="189.4" r="0.6" fill="#3a9a82" fill-opacity="0.9"/>
<circle cx="93.6" cy="185.5" r="0.6" fill="#3a9a82" fill-opacity="0.9"/>
<circle cx="104.4" cy="178" r="0.6" fill="#6a3d9a"/>
<circle cx="111.8" cy="174.2" r="0.6" fill="#6a3d9a"/>
<circle cx="130.9" cy="185.4" r="0.6" fill="#6a3d9a"/>
<circle cx="132.5" cy="190.1" r="0.6" fill="#6a3d9a"/>
<circle cx="129.8" cy="203.9" r="0.6" fill="#6a3d9a"/>
<circle cx="117.1" cy="213.5" r="0.6" fill="#6a3d9a"/>
<circle cx="107" cy="205" r="0.6" fill="#6a3d9a"/>
<circle cx="103.9" cy="195.5" r="0.6" fill="#6a3d9a"/>
<circle cx="128.6" cy="201.6" r="0.6" fill="#6a3d9a" fill-opacity="0.9"/>
<circle cx="111.4" cy="188.6" r="0.6" fill="#6a3d9a" fill-opacity="0.9"/>
<circle cx="108.7" cy="204.5" r="0.6" fill="#6a3d9a" fill-opacity="0.9"/>
<circle cx="119.1" cy="204.8" r="0.6" fill="#6a3d9a" fill-opacity="0.9"/>
<circle cx="113.3" cy="183.0" r="0.6" fill="#6a3d9a" fill-opacity="0.9"/>
<circle cx="127.3" cy="203.3" r="0.6" fill="#6a3d9a" fill-opacity="0.9"/>
<circle cx="110.4" cy="194.5" r="0.6" fill="#6a3d9a" fill-opacity="0.9"/>
<circle cx="104.7" cy="185.2" r="0.6" fill="#6a3d9a" fill-opacity="0.9"/>
<circle cx="111.3" cy="201.4" r="0.6" fill="#6a3d9a" fill-opacity="0.9"/>
<circle cx="131.3" cy="191.8" r="0.6" fill="#6a3d9a" fill-opacity="0.9"/>
<circle cx="131.2" cy="188.5" r="0.6" fill="#6a3d9a" fill-opacity="0.9"/>
<circle cx="110.2" cy="183.1" r="0.6" fill="#6a3d9a" fill-opacity="0.9"/>
<circle cx="109.5" cy="182.2" r="0.6" fill="#6a3d9a" fill-opacity="0.9"/>
<circle cx="121.7" cy="209.6" r="0.6" fill="#6a3d9a" fill-opacity="0.9"/>
<circle cx="127.9" cy="193.0" r="0.6" fill="#6a3d9a" fill-opacity="0.9"/>
<circle cx="122.6" cy="205.6" r="0.6" fill="#6a3d9a" fill-opacity="0.9"/>
<circle cx="106.3" cy="200.2" r="0.6" fill="#6a3d9a" fill-opacity="0.9"/>
<circle cx="125.4" cy="193.0" r="0.6" fill="#6a3d9a" fill-opacity="0.9"/>
<circle cx="109.0" cy="205.2" r="0.6" fill="#6a3d9a" fill-opacity="0.9"/>
<circle cx="113.4" cy="205.7" r="0.6" fill="#6a3d9a" fill-opacity="0.9"/>
<circle cx="131.7" cy="189.8" r="0.6" fill="#6a3d9a" fill-opacity="0.9"/>
<circle cx="115.4" cy="211.4" r="0.6" fill="#6a3d9a" fill-opacity="0.9"/>
<circle cx="115.5" cy="198.2" r="0.6" fill="#6a3d9a" fill-opacity="0.9"/>
<circle cx="118.0" cy="201.2" r="0.6" fill="#6a3d9a" fill-opacity="0.9"/>
<circle cx="123.5" cy="196.9" r="0.6" fill="#6a3d9a" fill-opacity="0.9"/>
<circle cx="121.7" cy="204.5" r="0.6" fill="#6a3d9a" fill-opacity="0.9"/>
<circle cx="123.3" cy="199.5" r="0.6" fill="#6a3d9a" fill-opacity="0.9"/>
<circle cx="112.3" cy="203.1" r="0.6" fill="#6a3d9a" fill-opacity="0.9"/>
<circle cx="116.6" cy="200.4" r="0.6" fill="#6a3d9a" fill-opacity="0.9"/>
<circle cx="123.1" cy="199.2" r="0.6" fill="#6a3d9a" fill-opacity="0.9"/>
<circle cx="106.7" cy="202.5" r="0.6" fill="#6a3d9a" fill-opacity="0.9"/>
<circle cx="117.6" cy="198.2" r="0.6" fill="#6a3d9a" fill-opacity="0.9"/>
<circle cx="116.0" cy="202.5" r="0.6" fill="#6a3d9a" fill-opacity="0.9"/>
<circle cx="116.4" cy="204.0" r="0.6" fill="#6a3d9a" fill-opacity="0.9"/>
<circle cx="87.4" cy="222" r="0.6" fill="#fdae5c"/>
<circle cx="105.5" cy="212.4" r="0.6" fill="#fdae5c"/>
<circle cx="113.9" cy="213" r="0.6" fill="#fdae5c"/>
<circle cx="123.5" cy="237.3" r="0.6" fill="#fdae5c"/>
<circle cx="90.6" cy="231" r="0.6" fill="#fdae5c"/>
<circle cx="96.8" cy="222.8" r="0.6" fill="#fdae5c" fill-opacity="0.9"/>
<circle cx="100.2" cy="223.8" r="0.6" fill="#fdae5c" fill-opacity="0.9"/>
<circle cx="105.5" cy="225.6" r="0.6" fill="#fdae5c" fill-opacity="0.9"/>
<circle cx="106.3" cy="212.9" r="0.6" fill="#fdae5c" fill-opacity="0.9"/>
<circle cx="103.3" cy="217.0" r="0.6" fill="#fdae5c" fill-opacity="0.9"/>
<circle cx="93.6" cy="224.2" r="0.6" fill="#fdae5c" fill-opacity="0.9"/>
<circle cx="113.6" cy="226.3" r="0.6" fill="#fdae5c" fill-opacity="0.9"/>
<circle cx="99.2" cy="225.3" r="0.6" fill="#fdae5c" fill-opacity="0.9"/>
<circle cx="107.5" cy="231.9" r="0.6" fill="#fdae5c" fill-opacity="0.9"/>
<circle cx="91.2" cy="226.4" r="0.6" fill="#fdae5c" fill-opacity="0.9"/>
<circle cx="96.4" cy="219.3" r="0.6" fill="#fdae5c" fill-opacity="0.9"/>
<circle cx="115.3" cy="225.0" r="0.6" fill="#fdae5c" fill-opacity="0.9"/>
<circle cx="107.7" cy="231.3" r="0.6" fill="#fdae5c" fill-opacity="0.9"/>
<circle cx="109.5" cy="225.0" r="0.6" fill="#fdae5c" fill-opacity="0.9"/>
<circle cx="105.9" cy="229.6" r="0.6" fill="#fdae5c" fill-opacity="0.9"/>
<circle cx="103.7" cy="225.7" r="0.6" fill="#fdae5c" fill-opacity="0.9"/>
<circle cx="112.6" cy="234.2" r="0.6" fill="#fdae5c" fill-opacity="0.9"/>
<circle cx="91.8" cy="223.4" r="0.6" fill="#fdae5c" fill-opacity="0.9"/>
<circle cx="90.0" cy="229.1" r="0.6" fill="#fdae5c" fill-opacity="0.9"/>
<circle cx="115.7" cy="234.7" r="0.6" fill="#fdae5c" fill-opacity="0.9"/>
<circle cx="63.4" cy="220.9" r="0.6" fill="#33a02c"/>
<circle cx="84.5" cy="227" r="0.6" fill="#33a02c"/>
<circle cx="77" cy="261.1" r="0.6" fill="#33a02c"/>
<circle cx="56.6" cy="251.6" r="0.6" fill="#33a02c"/>
<circle cx="60.9" cy="249.7" r="0.6" fill="#33a02c" fill-opacity="0.9"/>
<circle cx="75.0" cy="226.6" r="0.6" fill="#33a02c" fill-opacity="0.9"/>
<circle cx="67.7" cy="240.5" r="0.6" fill="#33a02c" fill-opacity="0.9"/>
<circle cx="61.1" cy="238.2" r="0.6" fill="#33a02c" fill-opacity="0.9"/>
<circle cx="71.0" cy="234.5" r="0.6" fill="#33a02c" fill-opacity="0.9"/>
<circle cx="62.1" cy="233.7" r="0.6" fill="#33a02c" fill-opacity="0.9"/>
<circle cx="72.1" cy="238.6" r="0.6" fill="#33a02c" fill-opacity="0.9"/>
<circle cx="74.0" cy="241.5" r="0.6" fill="#33a02c" fill-opacity="0.9"/>
<circle cx="64.1" cy="226.1" r="0.6" fill="#33a02c" fill-opacity="0.9"/>
<circle cx="79.4" cy="231.3" r="0.6" fill="#33a02c" fill-opacity="0.9"/>
<circle cx="72.5" cy="249.1" r="0.6" fill="#33a02c" fill-opacity="0.9"/>
<circle cx="75.8" cy="238.0" r="0.6" fill="#33a02c" fill-opacity="0.9"/>
<circle cx="126.4" cy="223.2" r="0.6" fill="#86bde0"/>
<circle cx="126.8" cy="216.4" r="0.6" fill="#86bde0"/>
<circle cx="131.8" cy="200.9" r="0.6" fill="#86bde0"/>
<circle cx="140.5" cy="198.2" r="0.6" fill="#86bde0"/>
<circle cx="150" cy="212.7" r="0.6" fill="#86bde0"/>
<circle cx="169.5" cy="247.7" r="0.6" fill="#86bde0"/>
<circle cx="153.7" cy="237.9" r="0.6" fill="#86bde0" fill-opacity="0.9"/>
<circle cx="146.0" cy="215.0" r="0.6" fill="#86bde0" fill-opacity="0.9"/>
<circle cx="137.9" cy="204.6" r="0.6" fill="#86bde0" fill-opacity="0.9"/>
<circle cx="131.1" cy="206.2" r="0.6" fill="#86bde0" fill-opacity="0.9"/>
<circle cx="139.8" cy="213.3" r="0.6" fill="#86bde0" fill-opacity="0.9"/>
<circle cx="134.6" cy="221.7" r="0.6" fill="#86bde0" fill-opacity="0.9"/>
<circle cx="143.3" cy="223.3" r="0.6" fill="#86bde0" fill-opacity="0.9"/>
<circle cx="156.9" cy="229.7" r="0.6" fill="#86bde0" fill-opacity="0.9"/>
<circle cx="143.8" cy="215.4" r="0.6" fill="#86bde0" fill-opacity="0.9"/>
<circle cx="137.4" cy="206.3" r="0.6" fill="#86bde0" fill-opacity="0.9"/>
<circle cx="138.6" cy="210.2" r="0.6" fill="#86bde0" fill-opacity="0.9"/>
<circle cx="139.0" cy="220.9" r="0.6" fill="#86bde0" fill-opacity="0.9"/>
<circle cx="133.2" cy="220.3" r="0.6" fill="#86bde0" fill-opacity="0.9"/>
<circle cx="139.7" cy="215.9" r="0.6" fill="#86bde0" fill-opacity="0.9"/>
<circle cx="237.5" cy="235.9" r="0.6" fill="#fdae5c"/>
<circle cx="293.4" cy="216.1" r="0.6" fill="#fdae5c"/>
<circle cx="302.9" cy="231.8" r="0.6" fill="#fdae5c"/>
<circle cx="294.7" cy="262.4" r="0.6" fill="#fdae5c"/>
<circle cx="247" cy="254.3" r="0.6" fill="#fdae5c"/>
<circle cx="268.5" cy="239.4" r="0.6" fill="#fdae5c" fill-opacity="0.9"/>
<circle cx="250.6" cy="239.5" r="0.6" fill="#fdae5c" fill-opacity="0.9"/>
<circle cx="243.4" cy="234.6" r="0.6" fill="#fdae5c" fill-opacity="0.9"/>
<circle cx="275.8" cy="240.6" r="0.6" fill="#fdae5c" fill-opacity="0.9"/>
<circle cx="286.6" cy="246.5" r="0.6" fill="#fdae5c" fill-opacity="0.9"/>
<circle cx="284.3" cy="256.8" r="0.6" fill="#fdae5c" fill-opacity="0.9"/>
<circle cx="263.0" cy="231.2" r="0.6" fill="#fdae5c" fill-opacity="0.9"/>
<circle cx="284.9" cy="245.9" r="0.6" fill="#fdae5c" fill-opacity="0.9"/>
<circle cx="295.8" cy="245.1" r="0.6" fill="#fdae5c" fill-opacity="0.9"/>
<circle cx="285.5" cy="253.7" r="0.6" fill="#fdae5c" fill-opacity="0.9"/>
<circle cx="246.6" cy="240.3" r="0.6" fill="#fdae5c" fill-opacity="0.9"/>
<circle cx="270.5" cy="254.8" r="0.6" fill="#fdae5c" fill-opacity="0.9"/>
<circle cx="290.1" cy="254.4" r="0.6" fill="#fdae5c" fill-opacity="0.9"/>
<circle cx="275.7" cy="257.4" r="0.6" fill="#fdae5c" fill-opacity="0.9"/>
<circle cx="291.4" cy="203.1" r="0.6" fill="#3a9a82"/>
<circle cx="301.4" cy="186.1" r="0.6" fill="#3a9a82"/>
<circle cx="313.1" cy="182.2" r="0.6" fill="#3a9a82"/>
<circle cx="322.1" cy="190.4" r="0.6" fill="#3a9a82"/>
<circle cx="323.7" cy="197.3" r="0.6" fill="#3a9a82"/>
<circle cx="326.4" cy="210" r="0.6" fill="#3a9a82"/>
<circle cx="306.2" cy="223.8" r="0.6" fill="#3a9a82"/>
<circle cx="315.3" cy="211.0" r="0.6" fill="#3a9a82" fill-opacity="0.9"/>
<circle cx="296.1" cy="197.2" r="0.6" fill="#3a9a82" fill-opacity="0.9"/>
<circle cx="310.9" cy="208.3" r="0.6" fill="#3a9a82" fill-opacity="0.9"/>
<circle cx="313.3" cy="210.5" r="0.6" fill="#3a9a82" fill-opacity="0.9"/>
<circle cx="319.3" cy="213.3" r="0.6" fill="#3a9a82" fill-opacity="0.9"/>
<circle cx="309.0" cy="204.5" r="0.6" fill="#3a9a82" fill-opacity="0.9"/>
<circle cx="314.5" cy="184.9" r="0.6" fill="#3a9a82" fill-opacity="0.9"/>
<circle cx="317.2" cy="192.7" r="0.6" fill="#3a9a82" fill-opacity="0.9"/>
<circle cx="316.9" cy="190.7" r="0.6" fill="#3a9a82" fill-opacity="0.9"/>
<circle cx="308.7" cy="198.1" r="0.6" fill="#3a9a82" fill-opacity="0.9"/>
<circle cx="308.2" cy="210.6" r="0.6" fill="#3a9a82" fill-opacity="0.9"/>
<circle cx="318.2" cy="207.9" r="0.6" fill="#3a9a82" fill-opacity="0.9"/>
<circle cx="313.9" cy="185.4" r="0.6" fill="#3a9a82" fill-opacity="0.9"/>
<circle cx="317.4" cy="194.9" r="0.6" fill="#3a9a82" fill-opacity="0.9"/>
<circle cx="314.9" cy="211.0" r="0.6" fill="#3a9a82" fill-opacity="0.9"/>
<circle cx="315.0" cy="194.3" r="0.6" fill="#3a9a82" fill-opacity="0.9"/>
<circle cx="328.5" cy="184.5" r="0.6" fill="#86bde0"/>
<circle cx="348.6" cy="185.1" r="0.6" fill="#86bde0"/>
<circle cx="351.8" cy="190.4" r="0.6" fill="#86bde0"/>
<circle cx="349" cy="205" r="0.6" fill="#86bde0"/>
<circle cx="342.3" cy="212.6" r="0.6" fill="#86bde0"/>
<circle cx="331.7" cy="210" r="0.6" fill="#86bde0"/>
<circle cx="326.4" cy="192.5" r="0.6" fill="#86bde0"/>
<circle cx="339.5" cy="197.6" r="0.6" fill="#86bde0" fill-opacity="0.9"/>
<circle cx="338.2" cy="187.8" r="0.6" fill="#86bde0" fill-opacity="0.9"/>
<circle cx="349.1" cy="190.1" r="0.6" fill="#86bde0" fill-opacity="0.9"/>
<circle cx="337.8" cy="192.0" r="0.6" fill="#86bde0" fill-opacity="0.9"/>
<circle cx="331.8" cy="200.8" r="0.6" fill="#86bde0" fill-opacity="0.9"/>
<circle cx="330.0" cy="199.2" r="0.6" fill="#86bde0" fill-opacity="0.9"/>
<circle cx="347.2" cy="198.8" r="0.6" fill="#86bde0" fill-opacity="0.9"/>
<circle cx="348.9" cy="204.3" r="0.6" fill="#86bde0" fill-opacity="0.9"/>
<circle cx="332.3" cy="209.7" r="0.6" fill="#86bde0" fill-opacity="0.9"/>
<circle cx="338.7" cy="185.2" r="0.6" fill="#86bde0" fill-opacity="0.9"/>
<circle cx="337.8" cy="193.0" r="0.6" fill="#86bde0" fill-opacity="0.9"/>
<circle cx="330.0" cy="194.2" r="0.6" fill="#86bde0" fill-opacity="0.9"/>
<circle cx="334.4" cy="208.1" r="0.6" fill="#86bde0" fill-opacity="0.9"/>
<circle cx="347.7" cy="187.9" r="0.6" fill="#86bde0" fill-opacity="0.9"/>
<circle cx="349.3" cy="192.6" r="0.6" fill="#86bde0" fill-opacity="0.9"/>
<circle cx="335.9" cy="195.5" r="0.6" fill="#86bde0" fill-opacity="0.9"/>
<circle cx="335.6" cy="196.5" r="0.6" fill="#86bde0" fill-opacity="0.9"/>
<circle cx="333.4" cy="185.9" r="0.6" fill="#86bde0" fill-opacity="0.9"/>
<circle cx="332.7" cy="192.0" r="0.6" fill="#86bde0" fill-opacity="0.9"/>
<circle cx="339.4" cy="189.8" r="0.6" fill="#86bde0" fill-opacity="0.9"/>
<circle cx="342.4" cy="210.2" r="0.6" fill="#86bde0" fill-opacity="0.9"/>
<circle cx="344.7" cy="185.9" r="0.6" fill="#86bde0" fill-opacity="0.9"/>
<circle cx="345.0" cy="197.2" r="0.6" fill="#86bde0" fill-opacity="0.9"/>
<circle cx="345.5" cy="202.6" r="0.6" fill="#86bde0" fill-opacity="0.9"/>
<circle cx="333.7" cy="185.9" r="0.6" fill="#86bde0" fill-opacity="0.9"/>
<circle cx="349.9" cy="188.1" r="0.6" fill="#86bde0" fill-opacity="0.9"/>
<circle cx="314.8" cy="223.3" r="0.6" fill="#33a02c"/>
<circle cx="318.6" cy="218" r="0.6" fill="#33a02c"/>
<circle cx="328.1" cy="212.1" r="0.6" fill="#33a02c"/>
<circle cx="336" cy="215.3" r="0.6" fill="#33a02c"/>
<circle cx="349.3" cy="231.2" r="0.6" fill="#33a02c"/>
<circle cx="347.2" cy="246.6" r="0.6" fill="#33a02c"/>
<circle cx="322.3" cy="257.7" r="0.6" fill="#33a02c"/>
<circle cx="315.9" cy="233.9" r="0.6" fill="#33a02c"/>
<circle cx="331.1" cy="227.8" r="0.6" fill="#33a02c" fill-opacity="0.9"/>
<circle cx="325.1" cy="245.8" r="0.6" fill="#33a02c" fill-opacity="0.9"/>
<circle cx="337.4" cy="225.8" r="0.6" fill="#33a02c" fill-opacity="0.9"/>
<circle cx="334.0" cy="230.1" r="0.6" fill="#33a02c" fill-opacity="0.9"/>
<circle cx="320.6" cy="219.5" r="0.6" fill="#33a02c" fill-opacity="0.9"/>
<circle cx="322.0" cy="253.4" r="0.6" fill="#33a02c" fill-opacity="0.9"/>
<circle cx="331.9" cy="222.1" r="0.6" fill="#33a02c" fill-opacity="0.9"/>
<circle cx="330.3" cy="218.5" r="0.6" fill="#33a02c" fill-opacity="0.9"/>
<circle cx="326.6" cy="216.3" r="0.6" fill="#33a02c" fill-opacity="0.9"/>
<circle cx="323.0" cy="223.9" r="0.6" fill="#33a02c" fill-opacity="0.9"/>
<circle cx="340.7" cy="230.9" r="0.6" fill="#33a02c" fill-opacity="0.9"/>
<circle cx="329.1" cy="236.0" r="0.6" fill="#33a02c" fill-opacity="0.9"/>
<circle cx="327.8" cy="227.5" r="0.6" fill="#33a02c" fill-opacity="0.9"/>
<circle cx="316.9" cy="224.8" r="0.6" fill="#33a02c" fill-opacity="0.9"/>
<circle cx="332.2" cy="240.8" r="0.6" fill="#33a02c" fill-opacity="0.9"/>
<circle cx="324.2" cy="223.4" r="0.6" fill="#33a02c" fill-opacity="0.9"/>
<circle cx="328.6" cy="232.4" r="0.6" fill="#33a02c" fill-opacity="0.9"/>
<circle cx="345.7" cy="233.7" r="0.6" fill="#33a02c" fill-opacity="0.9"/>
<circle cx="328.3" cy="254.4" r="0.6" fill="#33a02c" fill-opacity="0.9"/>
<circle cx="318.6" cy="219.1" r="0.6" fill="#33a02c" fill-opacity="0.9"/>
<circle cx="332.8" cy="243.2" r="0.6" fill="#33a02c" fill-opacity="0.9"/>
<circle cx="347.3" cy="245.0" r="0.6" fill="#33a02c" fill-opacity="0.9"/>
<circle cx="337.1" cy="247.0" r="0.6" fill="#33a02c" fill-opacity="0.9"/>
<circle cx="330.6" cy="237.2" r="0.6" fill="#33a02c" fill-opacity="0.9"/>
<circle cx="322.8" cy="254.0" r="0.6" fill="#33a02c" fill-opacity="0.9"/>
<circle cx="337.1" cy="226.0" r="0.6" fill="#33a02c" fill-opacity="0.9"/>
<circle cx="319.2" cy="223.6" r="0.6" fill="#33a02c" fill-opacity="0.9"/>
<circle cx="336.8" cy="244.0" r="0.6" fill="#33a02c" fill-opacity="0.9"/>
<circle cx="332.9" cy="238.7" r="0.6" fill="#33a02c" fill-opacity="0.9"/>
<circle cx="328.2" cy="222.3" r="0.6" fill="#33a02c" fill-opacity="0.9"/>
<circle cx="351.8" cy="195" r="0.6" fill="#6a3d9a"/>
<circle cx="364.5" cy="191.4" r="0.6" fill="#6a3d9a"/>
<circle cx="369.5" cy="197.3" r="0.6" fill="#6a3d9a"/>
<circle cx="367.3" cy="206.8" r="0.6" fill="#6a3d9a"/>
<circle cx="358" cy="214" r="0.6" fill="#6a3d9a"/>
<circle cx="350" cy="218.6" r="0.6" fill="#6a3d9a"/>
<circle cx="344.5" cy="216.4" r="0.6" fill="#6a3d9a"/>
<circle cx="348.6" cy="204.1" r="0.6" fill="#6a3d9a"/>
<circle cx="352.0" cy="203.9" r="0.6" fill="#6a3d9a" fill-opacity="0.9"/>
<circle cx="366.6" cy="204.3" r="0.6" fill="#6a3d9a" fill-opacity="0.9"/>
<circle cx="357.0" cy="209.7" r="0.6" fill="#6a3d9a" fill-opacity="0.9"/>
<circle cx="355.0" cy="198.4" r="0.6" fill="#6a3d9a" fill-opacity="0.9"/>
<circle cx="353.0" cy="202.8" r="0.6" fill="#6a3d9a" fill-opacity="0.9"/>
<circle cx="361.6" cy="196.8" r="0.6" fill="#6a3d9a" fill-opacity="0.9"/>
<circle cx="357.1" cy="197.0" r="0.6" fill="#6a3d9a" fill-opacity="0.9"/>
<circle cx="368.7" cy="199.9" r="0.6" fill="#6a3d9a" fill-opacity="0.9"/>
<circle cx="365.0" cy="197.7" r="0.6" fill="#6a3d9a" fill-opacity="0.9"/>
<circle cx="350.0" cy="212.1" r="0.6" fill="#6a3d9a" fill-opacity="0.9"/>
<circle cx="351.9" cy="217.3" r="0.6" fill="#6a3d9a" fill-opacity="0.9"/>
<circle cx="356.9" cy="196.5" r="0.6" fill="#6a3d9a" fill-opacity="0.9"/>
<circle cx="350.1" cy="202.7" r="0.6" fill="#6a3d9a" fill-opacity="0.9"/>
<circle cx="349.8" cy="217.9" r="0.6" fill="#6a3d9a" fill-opacity="0.9"/>
<circle cx="357.4" cy="207.6" r="0.6" fill="#6a3d9a" fill-opacity="0.9"/>
<circle cx="360.4" cy="207.8" r="0.6" fill="#6a3d9a" fill-opacity="0.9"/>
<circle cx="363.5" cy="204.3" r="0.6" fill="#6a3d9a" fill-opacity="0.9"/>
<circle cx="354.9" cy="199.4" r="0.6" fill="#6a3d9a" fill-opacity="0.9"/>
<circle cx="359.9" cy="206.2" r="0.6" fill="#6a3d9a" fill-opacity="0.9"/>
<circle cx="360.4" cy="211.7" r="0.6" fill="#6a3d9a" fill-opacity="0.9"/>
<circle cx="356.5" cy="206.4" r="0.6" fill="#6a3d9a" fill-opacity="0.9"/>
<circle cx="354.4" cy="205.2" r="0.6" fill="#6a3d9a" fill-opacity="0.9"/>
<circle cx="353.9" cy="208.4" r="0.6" fill="#6a3d9a" fill-opacity="0.9"/>
<circle cx="356.7" cy="207.1" r="0.6" fill="#6a3d9a" fill-opacity="0.9"/>
<circle cx="355.8" cy="209.0" r="0.6" fill="#6a3d9a" fill-opacity="0.9"/>
<circle cx="358.6" cy="206.7" r="0.6" fill="#6a3d9a" fill-opacity="0.9"/>
<circle cx="359.3" cy="206.7" r="0.6" fill="#6a3d9a" fill-opacity="0.9"/>
<circle cx="351.7" cy="210.2" r="0.6" fill="#6a3d9a" fill-opacity="0.9"/>
<circle cx="358.5" cy="204.9" r="0.6" fill="#6a3d9a" fill-opacity="0.9"/>
<circle cx="361.0" cy="207.8" r="0.6" fill="#6a3d9a" fill-opacity="0.9"/>
<circle cx="349.9" cy="210.5" r="0.6" fill="#6a3d9a" fill-opacity="0.9"/>
<circle cx="357.9" cy="209.0" r="0.6" fill="#6a3d9a" fill-opacity="0.9"/>
<circle cx="357.3" cy="206.7" r="0.6" fill="#6a3d9a" fill-opacity="0.9"/>
<circle cx="350.0" cy="209.1" r="0.6" fill="#6a3d9a" fill-opacity="0.9"/>
<circle cx="356.6" cy="206.4" r="0.6" fill="#6a3d9a" fill-opacity="0.9"/>
<circle cx="358.0" cy="207.2" r="0.6" fill="#6a3d9a" fill-opacity="0.9"/>
<circle cx="359.3" cy="206.2" r="0.6" fill="#6a3d9a" fill-opacity="0.9"/>
<circle cx="356.3" cy="202.3" r="0.6" fill="#6a3d9a" fill-opacity="0.9"/>
<circle cx="354.7" cy="208.5" r="0.6" fill="#6a3d9a" fill-opacity="0.9"/>
<circle cx="362.1" cy="206.2" r="0.6" fill="#6a3d9a" fill-opacity="0.9"/>
<circle cx="356.0" cy="210.5" r="0.6" fill="#6a3d9a" fill-opacity="0.9"/>
<circle cx="355.1" cy="208.6" r="0.6" fill="#6a3d9a" fill-opacity="0.9"/>
<circle cx="363.5" cy="207.1" r="0.6" fill="#6a3d9a" fill-opacity="0.9"/>
<circle cx="361.7" cy="205.4" r="0.6" fill="#6a3d9a" fill-opacity="0.9"/>
<circle cx="357.4" cy="206.8" r="0.6" fill="#6a3d9a" fill-opacity="0.9"/>
<circle cx="357.0" cy="209.5" r="0.6" fill="#6a3d9a" fill-opacity="0.9"/>
<circle cx="366.5" cy="205.5" r="0.6" fill="#6a3d9a" fill-opacity="0.9"/>
<circle cx="354.1" cy="208.1" r="0.6" fill="#6a3d9a" fill-opacity="0.9"/>
<circle cx="352.1" cy="208.1" r="0.6" fill="#6a3d9a" fill-opacity="0.9"/>
<circle cx="358.9" cy="206.4" r="0.6" fill="#6a3d9a" fill-opacity="0.9"/>
<circle cx="358.7" cy="203.6" r="0.6" fill="#6a3d9a" fill-opacity="0.9"/>
<circle cx="359.7" cy="203.6" r="0.6" fill="#6a3d9a" fill-opacity="0.9"/>
<circle cx="353.6" cy="205.8" r="0.6" fill="#6a3d9a" fill-opacity="0.9"/>
<circle cx="354.8" cy="208.9" r="0.6" fill="#6a3d9a" fill-opacity="0.9"/>
<circle cx="356.8" cy="206.1" r="0.6" fill="#6a3d9a" fill-opacity="0.9"/>
<circle cx="358.8" cy="210.5" r="0.6" fill="#6a3d9a" fill-opacity="0.9"/>
<circle cx="356.5" cy="207.8" r="0.6" fill="#6a3d9a" fill-opacity="0.9"/>
<circle cx="361.7" cy="207.6" r="0.6" fill="#6a3d9a" fill-opacity="0.9"/>
<circle cx="351.1" cy="212.5" r="0.6" fill="#6a3d9a" fill-opacity="0.9"/>
<circle cx="365.8" cy="202.6" r="0.6" fill="#6a3d9a" fill-opacity="0.9"/>
<circle cx="356.3" cy="207.9" r="0.6" fill="#6a3d9a" fill-opacity="0.9"/>
<circle cx="360.6" cy="208.5" r="0.6" fill="#6a3d9a" fill-opacity="0.9"/>
<circle cx="355.4" cy="204.7" r="0.6" fill="#6a3d9a" fill-opacity="0.9"/>
<circle cx="356.9" cy="209.3" r="0.6" fill="#6a3d9a" fill-opacity="0.9"/>
<circle cx="351.9" cy="204.7" r="0.6" fill="#6a3d9a" fill-opacity="0.9"/>
<circle cx="356.4" cy="202.7" r="0.6" fill="#6a3d9a" fill-opacity="0.9"/>
<circle cx="355.4" cy="206.0" r="0.6" fill="#6a3d9a" fill-opacity="0.9"/>
<circle cx="358.4" cy="205.5" r="0.6" fill="#6a3d9a" fill-opacity="0.9"/>
<circle cx="352.8" cy="206.1" r="0.6" fill="#6a3d9a" fill-opacity="0.9"/>
<circle cx="356.3" cy="205.5" r="0.6" fill="#6a3d9a" fill-opacity="0.9"/>
<circle cx="356.6" cy="208.7" r="0.6" fill="#6a3d9a" fill-opacity="0.9"/>
<circle cx="361.5" cy="210.8" r="0.6" fill="#6a3d9a" fill-opacity="0.9"/>
<circle cx="353.2" cy="206.1" r="0.6" fill="#6a3d9a" fill-opacity="0.9"/>
<circle cx="353.5" cy="206.9" r="0.6" fill="#6a3d9a" fill-opacity="0.9"/>
<circle cx="358.7" cy="204.0" r="0.6" fill="#6a3d9a" fill-opacity="0.9"/>
<circle cx="358.4" cy="206.9" r="0.6" fill="#6a3d9a" fill-opacity="0.9"/>
<circle cx="348.8" cy="207.6" r="0.6" fill="#6a3d9a" fill-opacity="0.9"/>
<circle cx="361.5" cy="202.9" r="0.6" fill="#6a3d9a" fill-opacity="0.9"/>
<circle cx="359.9" cy="207.5" r="0.6" fill="#6a3d9a" fill-opacity="0.9"/>
<circle cx="358.5" cy="208.0" r="0.6" fill="#6a3d9a" fill-opacity="0.9"/>
<circle cx="362.0" cy="206.5" r="0.6" fill="#6a3d9a" fill-opacity="0.9"/>
<circle cx="360.2" cy="206.1" r="0.6" fill="#6a3d9a" fill-opacity="0.9"/>
<circle cx="359.6" cy="205.2" r="0.6" fill="#6a3d9a" fill-opacity="0.9"/>
<circle cx="356.0" cy="210.8" r="0.6" fill="#6a3d9a" fill-opacity="0.9"/>
<circle cx="358.4" cy="206.7" r="0.6" fill="#6a3d9a" fill-opacity="0.9"/>
<circle cx="351.7" cy="205.3" r="0.6" fill="#6a3d9a" fill-opacity="0.9"/>
<circle cx="357.3" cy="209.1" r="0.6" fill="#6a3d9a" fill-opacity="0.9"/>
<circle cx="358.3" cy="208.2" r="0.6" fill="#6a3d9a" fill-opacity="0.9"/>
<circle cx="356.3" cy="210.0" r="0.6" fill="#6a3d9a" fill-opacity="0.9"/>
<circle cx="354.9" cy="205.8" r="0.6" fill="#6a3d9a" fill-opacity="0.9"/>
<circle cx="360.2" cy="207.1" r="0.6" fill="#6a3d9a" fill-opacity="0.9"/>
<circle cx="355.3" cy="205.7" r="0.6" fill="#6a3d9a" fill-opacity="0.9"/>
<circle cx="355.4" cy="208.4" r="0.6" fill="#6a3d9a" fill-opacity="0.9"/>
<circle cx="358.0" cy="204.3" r="0.6" fill="#6a3d9a" fill-opacity="0.9"/>
<circle cx="358.3" cy="207.4" r="0.6" fill="#6a3d9a" fill-opacity="0.9"/>
<circle cx="352.3" cy="208.7" r="0.6" fill="#6a3d9a" fill-opacity="0.9"/>
<circle cx="355.3" cy="206.3" r="0.6" fill="#6a3d9a" fill-opacity="0.9"/>
<circle cx="359.8" cy="209.9" r="0.6" fill="#6a3d9a" fill-opacity="0.9"/>
<circle cx="353.6" cy="208.0" r="0.6" fill="#6a3d9a" fill-opacity="0.9"/>
<circle cx="352.8" cy="212.1" r="0.6" fill="#6a3d9a" fill-opacity="0.9"/>
<circle cx="354.4" cy="209.6" r="0.6" fill="#6a3d9a" fill-opacity="0.9"/>
<circle cx="353.8" cy="208.8" r="0.6" fill="#6a3d9a" fill-opacity="0.9"/>
<circle cx="365.8" cy="201.4" r="0.6" fill="#6a3d9a" fill-opacity="0.9"/>
<circle cx="354.7" cy="208.1" r="0.6" fill="#6a3d9a" fill-opacity="0.9"/>
<circle cx="356.1" cy="205.5" r="0.6" fill="#6a3d9a" fill-opacity="0.9"/>
<circle cx="365.5" cy="207.2" r="0.6" fill="#6a3d9a" fill-opacity="0.9"/>
<circle cx="349.6" cy="208.9" r="0.6" fill="#6a3d9a" fill-opacity="0.9"/>
<circle cx="349.3" cy="209.5" r="0.6" fill="#6a3d9a" fill-opacity="0.9"/>
<circle cx="354.1" cy="207.3" r="0.6" fill="#6a3d9a" fill-opacity="0.9"/>
<circle cx="354.2" cy="214.2" r="0.6" fill="#6a3d9a" fill-opacity="0.9"/>
<circle cx="347.5" cy="210.6" r="0.6" fill="#6a3d9a" fill-opacity="0.9"/>
<circle cx="354.0" cy="215.5" r="0.6" fill="#6a3d9a" fill-opacity="0.9"/>
<circle cx="349.0" cy="215.7" r="0.6" fill="#6a3d9a" fill-opacity="0.9"/>
<circle cx="352.2" cy="215.3" r="0.6" fill="#6a3d9a" fill-opacity="0.9"/>
<circle cx="353.3" cy="215.5" r="0.6" fill="#6a3d9a" fill-opacity="0.9"/>
<circle cx="353.2" cy="209.1" r="0.6" fill="#6a3d9a" fill-opacity="0.9"/>
<circle cx="351.4" cy="215.0" r="0.6" fill="#6a3d9a" fill-opacity="0.9"/>
<circle cx="351.4" cy="223.2" r="0.6" fill="#e6403c"/>
<circle cx="357.7" cy="226.4" r="0.6" fill="#e6403c"/>
<circle cx="369.1" cy="222.3" r="0.6" fill="#e6403c"/>
<circle cx="376.8" cy="209.5" r="0.6" fill="#e6403c"/>
<circle cx="373.6" cy="206.4" r="0.6" fill="#e6403c"/>
<circle cx="363.2" cy="209.5" r="0.6" fill="#e6403c"/>
<circle cx="355" cy="214" r="0.6" fill="#e6403c"/>
<circle cx="372.3" cy="209.6" r="0.6" fill="#e6403c" fill-opacity="0.9"/>
<circle cx="371.4" cy="210.8" r="0.6" fill="#e6403c" fill-opacity="0.9"/>
<circle cx="361.7" cy="223.3" r="0.6" fill="#e6403c" fill-opacity="0.9"/>
<circle cx="372.5" cy="210.1" r="0.6" fill="#e6403c" fill-opacity="0.9"/>
<circle cx="356.9" cy="214.4" r="0.6" fill="#e6403c" fill-opacity="0.9"/>
<circle cx="364.6" cy="214.1" r="0.6" fill="#e6403c" fill-opacity="0.9"/>
<circle cx="372.7" cy="208.8" r="0.6" fill="#e6403c" fill-opacity="0.9"/>
<circle cx="366.6" cy="217.4" r="0.6" fill="#e6403c" fill-opacity="0.9"/>
<circle cx="367.3" cy="212.5" r="0.6" fill="#e6403c" fill-opacity="0.9"/>
<circle cx="362.1" cy="218.1" r="0.6" fill="#e6403c" fill-opacity="0.9"/>
<circle cx="358.0" cy="218.1" r="0.6" fill="#e6403c" fill-opacity="0.9"/>
<circle cx="359.2" cy="217.3" r="0.6" fill="#e6403c" fill-opacity="0.9"/>
<circle cx="369.3" cy="217.0" r="0.6" fill="#e6403c" fill-opacity="0.9"/>
<circle cx="360.4" cy="216.6" r="0.6" fill="#e6403c" fill-opacity="0.9"/>
<circle cx="364.1" cy="212.3" r="0.6" fill="#e6403c" fill-opacity="0.9"/>
<circle cx="360.9" cy="216.9" r="0.6" fill="#e6403c" fill-opacity="0.9"/>
<circle cx="361.5" cy="216.7" r="0.6" fill="#e6403c" fill-opacity="0.9"/>
<circle cx="366.6" cy="218.3" r="0.6" fill="#e6403c" fill-opacity="0.9"/>
<circle cx="367.3" cy="217.9" r="0.6" fill="#e6403c" fill-opacity="0.9"/>
<circle cx="362.3" cy="216.5" r="0.6" fill="#e6403c" fill-opacity="0.9"/>
<circle cx="362.4" cy="215.7" r="0.6" fill="#e6403c" fill-opacity="0.9"/>
<circle cx="362.7" cy="212.4" r="0.6" fill="#e6403c" fill-opacity="0.9"/>
<circle cx="362.1" cy="216.4" r="0.6" fill="#e6403c" fill-opacity="0.9"/>
<circle cx="359.4" cy="216.4" r="0.6" fill="#e6403c" fill-opacity="0.9"/>
<circle cx="365.7" cy="216.1" r="0.6" fill="#e6403c" fill-opacity="0.9"/>
<circle cx="372.2" cy="210.2" r="0.6" fill="#e6403c" fill-opacity="0.9"/>
<circle cx="362.6" cy="212.1" r="0.6" fill="#e6403c" fill-opacity="0.9"/>
<circle cx="365.7" cy="215.8" r="0.6" fill="#e6403c" fill-opacity="0.9"/>
<circle cx="365.8" cy="211.1" r="0.6" fill="#e6403c" fill-opacity="0.9"/>
<circle cx="367.1" cy="217.4" r="0.6" fill="#e6403c" fill-opacity="0.9"/>
<circle cx="363.6" cy="215.1" r="0.6" fill="#e6403c" fill-opacity="0.9"/>
<circle cx="366.2" cy="215.3" r="0.6" fill="#e6403c" fill-opacity="0.9"/>
<circle cx="364.4" cy="215.3" r="0.6" fill="#e6403c" fill-opacity="0.9"/>
<circle cx="354.1" cy="216.4" r="0.6" fill="#e6403c" fill-opacity="0.9"/>
<circle cx="364.3" cy="218.3" r="0.6" fill="#e6403c" fill-opacity="0.9"/>
<circle cx="359.8" cy="216.4" r="0.6" fill="#e6403c" fill-opacity="0.9"/>
<circle cx="366.1" cy="216.8" r="0.6" fill="#e6403c" fill-opacity="0.9"/>
<circle cx="368.7" cy="221.3" r="0.6" fill="#e6403c" fill-opacity="0.9"/>
<circle cx="359.7" cy="211.9" r="0.6" fill="#e6403c" fill-opacity="0.9"/>
<circle cx="367.1" cy="220.2" r="0.6" fill="#e6403c" fill-opacity="0.9"/>
<circle cx="367.4" cy="218.5" r="0.6" fill="#e6403c" fill-opacity="0.9"/>
<circle cx="360.9" cy="214.8" r="0.6" fill="#e6403c" fill-opacity="0.9"/>
<circle cx="367.2" cy="214.3" r="0.6" fill="#e6403c" fill-opacity="0.9"/>
<circle cx="355.9" cy="214.1" r="0.6" fill="#e6403c" fill-opacity="0.9"/>
<circle cx="360.6" cy="214.8" r="0.6" fill="#e6403c" fill-opacity="0.9"/>
<circle cx="364.5" cy="214.7" r="0.6" fill="#e6403c" fill-opacity="0.9"/>
<circle cx="369.0" cy="216.3" r="0.6" fill="#e6403c" fill-opacity="0.9"/>
<circle cx="358.9" cy="219.6" r="0.6" fill="#e6403c" fill-opacity="0.9"/>
<circle cx="361.1" cy="217.0" r="0.6" fill="#e6403c" fill-opacity="0.9"/>
<circle cx="363.4" cy="215.7" r="0.6" fill="#e6403c" fill-opacity="0.9"/>
<circle cx="364.9" cy="214.8" r="0.6" fill="#e6403c" fill-opacity="0.9"/>
<circle cx="358.2" cy="214.7" r="0.6" fill="#e6403c" fill-opacity="0.9"/>
<circle cx="363.4" cy="216.6" r="0.6" fill="#e6403c" fill-opacity="0.9"/>
<circle cx="365.8" cy="216.8" r="0.6" fill="#e6403c" fill-opacity="0.9"/>
<circle cx="360.2" cy="214.8" r="0.6" fill="#e6403c" fill-opacity="0.9"/>
<circle cx="354.6" cy="216.1" r="0.6" fill="#e6403c" fill-opacity="0.9"/>
<circle cx="365.5" cy="217.8" r="0.6" fill="#e6403c" fill-opacity="0.9"/>
<circle cx="363.0" cy="216.1" r="0.6" fill="#e6403c" fill-opacity="0.9"/>
<circle cx="367.4" cy="216.5" r="0.6" fill="#e6403c" fill-opacity="0.9"/>
<circle cx="366.6" cy="217.9" r="0.6" fill="#e6403c" fill-opacity="0.9"/>
<circle cx="364.4" cy="219.6" r="0.6" fill="#e6403c" fill-opacity="0.9"/>
<circle cx="361.1" cy="215.6" r="0.6" fill="#e6403c" fill-opacity="0.9"/>
<circle cx="360.1" cy="214.6" r="0.6" fill="#e6403c" fill-opacity="0.9"/>
<circle cx="370.0" cy="220.7" r="0.6" fill="#e6403c" fill-opacity="0.9"/>
<circle cx="363.6" cy="217.9" r="0.6" fill="#e6403c" fill-opacity="0.9"/>
<circle cx="368.4" cy="218.4" r="0.6" fill="#e6403c" fill-opacity="0.9"/>
<circle cx="368.6" cy="213.5" r="0.6" fill="#e6403c" fill-opacity="0.9"/>
<circle cx="360.8" cy="217.6" r="0.6" fill="#e6403c" fill-opacity="0.9"/>
<circle cx="369.5" cy="216.7" r="0.6" fill="#e6403c" fill-opacity="0.9"/>
<circle cx="359.9" cy="215.6" r="0.6" fill="#e6403c" fill-opacity="0.9"/>
<circle cx="360.7" cy="214.4" r="0.6" fill="#e6403c" fill-opacity="0.9"/>
<circle cx="369.8" cy="215.0" r="0.6" fill="#e6403c" fill-opacity="0.9"/>
<circle cx="363.6" cy="221.7" r="0.6" fill="#e6403c" fill-opacity="0.9"/>
<circle cx="368.5" cy="217.3" r="0.6" fill="#e6403c" fill-opacity="0.9"/>
<circle cx="360.9" cy="217.5" r="0.6" fill="#e6403c" fill-opacity="0.9"/>
<circle cx="370.3" cy="218.0" r="0.6" fill="#e6403c" fill-opacity="0.9"/>
<circle cx="368.8" cy="216.7" r="0.6" fill="#e6403c" fill-opacity="0.9"/>
<circle cx="365.7" cy="216.0" r="0.6" fill="#e6403c" fill-opacity="0.9"/>
<circle cx="365.3" cy="219.6" r="0.6" fill="#e6403c" fill-opacity="0.9"/>
<circle cx="357.5" cy="216.3" r="0.6" fill="#e6403c" fill-opacity="0.9"/>
<circle cx="364.5" cy="215.1" r="0.6" fill="#e6403c" fill-opacity="0.9"/>
<circle cx="362.2" cy="218.4" r="0.6" fill="#e6403c" fill-opacity="0.9"/>
<circle cx="364.9" cy="212.8" r="0.6" fill="#e6403c" fill-opacity="0.9"/>
<circle cx="371.6" cy="216.7" r="0.6" fill="#e6403c" fill-opacity="0.9"/>
<circle cx="363.4" cy="213.8" r="0.6" fill="#e6403c" fill-opacity="0.9"/>
<circle cx="363.3" cy="213.9" r="0.6" fill="#e6403c" fill-opacity="0.9"/>
<circle cx="363.8" cy="217.6" r="0.6" fill="#e6403c" fill-opacity="0.9"/>
<circle cx="363.6" cy="217.2" r="0.6" fill="#e6403c" fill-opacity="0.9"/>
<circle cx="359.9" cy="219.9" r="0.6" fill="#e6403c" fill-opacity="0.9"/>
<circle cx="360.8" cy="212.1" r="0.6" fill="#e6403c" fill-opacity="0.9"/>
<circle cx="362.7" cy="214.7" r="0.6" fill="#e6403c" fill-opacity="0.9"/>
<circle cx="359.3" cy="215.6" r="0.6" fill="#e6403c" fill-opacity="0.9"/>
<circle cx="364.7" cy="213.7" r="0.6" fill="#e6403c" fill-opacity="0.9"/>
<circle cx="362.9" cy="219.9" r="0.6" fill="#e6403c" fill-opacity="0.9"/>
<circle cx="366.4" cy="216.1" r="0.6" fill="#e6403c" fill-opacity="0.9"/>
<circle cx="366.4" cy="230.5" r="0.6" fill="#ee8050"/>
<circle cx="371.4" cy="242.3" r="0.6" fill="#ee8050"/>
<circle cx="391.4" cy="235" r="0.6" fill="#ee8050"/>
<circle cx="392.3" cy="211.8" r="0.6" fill="#ee8050"/>
<circle cx="370" cy="225" r="0.6" fill="#ee8050"/>
<circle cx="385.7" cy="221.8" r="0.6" fill="#ee8050" fill-opacity="0.9"/>
<circle cx="389.2" cy="221.8" r="0.6" fill="#ee8050" fill-opacity="0.9"/>
<circle cx="372.6" cy="239.5" r="0.6" fill="#ee8050" fill-opacity="0.9"/>
<circle cx="382.7" cy="232.9" r="0.6" fill="#ee8050" fill-opacity="0.9"/>
<circle cx="378.6" cy="237.4" r="0.6" fill="#ee8050" fill-opacity="0.9"/>
<circle cx="377.7" cy="233.9" r="0.6" fill="#ee8050" fill-opacity="0.9"/>
<circle cx="381.2" cy="221.2" r="0.6" fill="#ee8050" fill-opacity="0.9"/>
<circle cx="371.9" cy="230.8" r="0.6" fill="#ee8050" fill-opacity="0.9"/>
<circle cx="384.3" cy="231.1" r="0.6" fill="#ee8050" fill-opacity="0.9"/>
<circle cx="384.5" cy="234.3" r="0.6" fill="#ee8050" fill-opacity="0.9"/>
<circle cx="368.1" cy="229.8" r="0.6" fill="#ee8050" fill-opacity="0.9"/>
<circle cx="375.8" cy="236.7" r="0.6" fill="#ee8050" fill-opacity="0.9"/>
<circle cx="495.6" cy="169.4" r="0.95" fill="#3a9a82"/>
<circle cx="528.2" cy="165.6" r="0.95" fill="#3a9a82"/>
<circle cx="554.7" cy="164.8" r="0.95" fill="#3a9a82"/>
<circle cx="557" cy="200.5" r="0.95" fill="#3a9a82"/>
<circle cx="550.2" cy="211.8" r="0.95" fill="#3a9a82"/>
<circle cx="545.9" cy="206.7" r="0.95" fill="#3a9a82" fill-opacity="0.9"/>
<circle cx="551.7" cy="209.2" r="0.95" fill="#3a9a82" fill-opacity="0.9"/>
<circle cx="502.2" cy="174.5" r="0.95" fill="#3a9a82" fill-opacity="0.9"/>
<circle cx="547.6" cy="203.0" r="0.95" fill="#3a9a82" fill-opacity="0.9"/>
<circle cx="534.4" cy="178.3" r="0.95" fill="#3a9a82" fill-opacity="0.9"/>
<circle cx="501.7" cy="169.4" r="0.95" fill="#3a9a82" fill-opacity="0.9"/>
<circle cx="542.1" cy="174.4" r="0.95" fill="#3a9a82" fill-opacity="0.9"/>
<circle cx="518.2" cy="179.9" r="0.95" fill="#3a9a82" fill-opacity="0.9"/>
<circle cx="554.8" cy="188.5" r="0.95" fill="#3a9a82" fill-opacity="0.9"/>
<circle cx="547.9" cy="193.9" r="0.95" fill="#3a9a82" fill-opacity="0.9"/>
<circle cx="528.6" cy="175.0" r="0.95" fill="#3a9a82" fill-opacity="0.9"/>
<circle cx="548.5" cy="169.1" r="0.95" fill="#3a9a82" fill-opacity="0.9"/>
<circle cx="468.3" cy="190.6" r="0.95" fill="#fdae5c"/>
<circle cx="513.8" cy="198.9" r="0.95" fill="#fdae5c"/>
<circle cx="546.4" cy="217.1" r="0.95" fill="#fdae5c"/>
<circle cx="523.6" cy="250.5" r="0.95" fill="#fdae5c"/>
<circle cx="497.9" cy="245.9" r="0.95" fill="#fdae5c"/>
<circle cx="506.7" cy="238.3" r="0.95" fill="#fdae5c" fill-opacity="0.9"/>
<circle cx="495.4" cy="240.4" r="0.95" fill="#fdae5c" fill-opacity="0.9"/>
<circle cx="490.5" cy="203.5" r="0.95" fill="#fdae5c" fill-opacity="0.9"/>
<circle cx="522.9" cy="220.4" r="0.95" fill="#fdae5c" fill-opacity="0.9"/>
<circle cx="522.7" cy="237.7" r="0.95" fill="#fdae5c" fill-opacity="0.9"/>
<circle cx="517.3" cy="211.9" r="0.95" fill="#fdae5c" fill-opacity="0.9"/>
<circle cx="499.6" cy="214.2" r="0.95" fill="#fdae5c" fill-opacity="0.9"/>
<circle cx="484.4" cy="206.4" r="0.95" fill="#fdae5c" fill-opacity="0.9"/>
<circle cx="538.7" cy="220.6" r="0.95" fill="#fdae5c" fill-opacity="0.9"/>
<circle cx="497.9" cy="243.6" r="0.95" fill="#fdae5c" fill-opacity="0.9"/>
<circle cx="486.5" cy="218.2" r="0.95" fill="#fdae5c" fill-opacity="0.9"/>
<circle cx="509.8" cy="235.8" r="0.95" fill="#fdae5c" fill-opacity="0.9"/>
<circle cx="527.1" cy="229.3" r="0.95" fill="#fdae5c" fill-opacity="0.9"/>
<circle cx="495.5" cy="210.2" r="0.95" fill="#fdae5c" fill-opacity="0.9"/>
<circle cx="520.0" cy="235.0" r="0.95" fill="#fdae5c" fill-opacity="0.9"/>
<circle cx="528.7" cy="225.3" r="0.95" fill="#fdae5c" fill-opacity="0.9"/>
<circle cx="483.3" cy="208.7" r="0.95" fill="#fdae5c" fill-opacity="0.9"/>
<circle cx="523.2" cy="241.1" r="0.95" fill="#fdae5c" fill-opacity="0.9"/>
<circle cx="561.1" cy="185.3" r="0.95" fill="#86bde0"/>
<circle cx="570.2" cy="168.6" r="0.95" fill="#86bde0"/>
<circle cx="579.2" cy="162.6" r="0.95" fill="#86bde0"/>
<circle cx="595.2" cy="161.1" r="0.95" fill="#86bde0"/>
<circle cx="599.7" cy="174.7" r="0.95" fill="#86bde0"/>
<circle cx="597.4" cy="186.8" r="0.95" fill="#86bde0"/>
<circle cx="588.3" cy="202" r="0.95" fill="#86bde0"/>
<circle cx="570.9" cy="218.6" r="0.95" fill="#86bde0"/>
<circle cx="561.8" cy="204.2" r="0.95" fill="#86bde0"/>
<circle cx="570.7" cy="179.9" r="0.95" fill="#86bde0" fill-opacity="0.9"/>
<circle cx="581.3" cy="170.4" r="0.95" fill="#86bde0" fill-opacity="0.9"/>
<circle cx="573.8" cy="172.0" r="0.95" fill="#86bde0" fill-opacity="0.9"/>
<circle cx="565.0" cy="183.2" r="0.95" fill="#86bde0" fill-opacity="0.9"/>
<circle cx="589.4" cy="186.1" r="0.95" fill="#86bde0" fill-opacity="0.9"/>
<circle cx="568.7" cy="197.8" r="0.95" fill="#86bde0" fill-opacity="0.9"/>
<circle cx="576.5" cy="206.6" r="0.95" fill="#86bde0" fill-opacity="0.9"/>
<circle cx="587.9" cy="189.9" r="0.95" fill="#86bde0" fill-opacity="0.9"/>
<circle cx="585.5" cy="187.7" r="0.95" fill="#86bde0" fill-opacity="0.9"/>
<circle cx="566.6" cy="195.8" r="0.95" fill="#86bde0" fill-opacity="0.9"/>
<circle cx="576.7" cy="203.7" r="0.95" fill="#86bde0" fill-opacity="0.9"/>
<circle cx="596.1" cy="185.8" r="0.95" fill="#86bde0" fill-opacity="0.9"/>
<circle cx="583.3" cy="204.2" r="0.95" fill="#86bde0" fill-opacity="0.9"/>
<circle cx="577.4" cy="174.2" r="0.95" fill="#86bde0" fill-opacity="0.9"/>
<circle cx="585.9" cy="187.2" r="0.95" fill="#86bde0" fill-opacity="0.9"/>
<circle cx="573.2" cy="197.2" r="0.95" fill="#86bde0" fill-opacity="0.9"/>
<circle cx="564.9" cy="185.2" r="0.95" fill="#86bde0" fill-opacity="0.9"/>
<circle cx="585.4" cy="175.5" r="0.95" fill="#86bde0" fill-opacity="0.9"/>
<circle cx="577.5" cy="187.3" r="0.95" fill="#86bde0" fill-opacity="0.9"/>
<circle cx="585.1" cy="184.6" r="0.95" fill="#86bde0" fill-opacity="0.9"/>
<circle cx="568.2" cy="198.7" r="0.95" fill="#86bde0" fill-opacity="0.9"/>
<circle cx="591.1" cy="183.5" r="0.95" fill="#86bde0" fill-opacity="0.9"/>
<circle cx="562.6" cy="192.3" r="0.95" fill="#86bde0" fill-opacity="0.9"/>
<circle cx="567.3" cy="206.1" r="0.95" fill="#86bde0" fill-opacity="0.9"/>
<circle cx="565.0" cy="194.1" r="0.95" fill="#86bde0" fill-opacity="0.9"/>
<circle cx="582.0" cy="202.3" r="0.95" fill="#86bde0" fill-opacity="0.9"/>
<circle cx="580.9" cy="197.9" r="0.95" fill="#86bde0" fill-opacity="0.9"/>
<circle cx="593.1" cy="191.1" r="0.95" fill="#86bde0" fill-opacity="0.9"/>
<circle cx="569.2" cy="200.5" r="0.95" fill="#86bde0" fill-opacity="0.9"/>
<circle cx="576.3" cy="205.0" r="0.95" fill="#86bde0" fill-opacity="0.9"/>
<circle cx="595.9" cy="186.8" r="0.95" fill="#33a02c"/>
<circle cx="632.3" cy="186.8" r="0.95" fill="#33a02c"/>
<circle cx="616.4" cy="211.8" r="0.95" fill="#33a02c"/>
<circle cx="596.7" cy="211.8" r="0.95" fill="#33a02c"/>
<circle cx="589.1" cy="205.8" r="0.95" fill="#33a02c"/>
<circle cx="604.5" cy="188.2" r="0.95" fill="#33a02c" fill-opacity="0.9"/>
<circle cx="601.0" cy="196.8" r="0.95" fill="#33a02c" fill-opacity="0.9"/>
<circle cx="607.3" cy="204.3" r="0.95" fill="#33a02c" fill-opacity="0.9"/>
<circle cx="604.3" cy="193.4" r="0.95" fill="#33a02c" fill-opacity="0.9"/>
<circle cx="598.8" cy="205.3" r="0.95" fill="#33a02c" fill-opacity="0.9"/>
<circle cx="598.6" cy="206.8" r="0.95" fill="#33a02c" fill-opacity="0.9"/>
<circle cx="606.0" cy="192.1" r="0.95" fill="#33a02c" fill-opacity="0.9"/>
<circle cx="594.7" cy="206.2" r="0.95" fill="#33a02c" fill-opacity="0.9"/>
<circle cx="609.4" cy="200.9" r="0.95" fill="#33a02c" fill-opacity="0.9"/>
<circle cx="598.9" cy="210.9" r="0.95" fill="#33a02c" fill-opacity="0.9"/>
<circle cx="604.4" cy="202.8" r="0.95" fill="#33a02c" fill-opacity="0.9"/>
<circle cx="609.3" cy="194.2" r="0.95" fill="#33a02c" fill-opacity="0.9"/>
<circle cx="612.8" cy="189.9" r="0.95" fill="#33a02c" fill-opacity="0.9"/>
<circle cx="625.1" cy="195.7" r="0.95" fill="#33a02c" fill-opacity="0.9"/>
<circle cx="625.8" cy="193.5" r="0.95" fill="#33a02c" fill-opacity="0.9"/>
<circle cx="605.3" cy="193.1" r="0.95" fill="#33a02c" fill-opacity="0.9"/>
<circle cx="602.1" cy="204.0" r="0.95" fill="#33a02c" fill-opacity="0.9"/>
<circle cx="613.0" cy="203.1" r="0.95" fill="#33a02c" fill-opacity="0.9"/>
<circle cx="604.3" cy="205.6" r="0.95" fill="#33a02c" fill-opacity="0.9"/>
<circle cx="603.2" cy="206.8" r="0.95" fill="#33a02c" fill-opacity="0.9"/>
<circle cx="598.6" cy="205.2" r="0.95" fill="#33a02c" fill-opacity="0.9"/>
<circle cx="602.4" cy="200.2" r="0.95" fill="#33a02c" fill-opacity="0.9"/>
<circle cx="613.8" cy="200.0" r="0.95" fill="#33a02c" fill-opacity="0.9"/>
<circle cx="613.8" cy="205.3" r="0.95" fill="#33a02c" fill-opacity="0.9"/>
<circle cx="612.3" cy="199.6" r="0.95" fill="#33a02c" fill-opacity="0.9"/>
<circle cx="611.0" cy="208.1" r="0.95" fill="#33a02c" fill-opacity="0.9"/>
<circle cx="604.4" cy="202.5" r="0.95" fill="#33a02c" fill-opacity="0.9"/>
<circle cx="617.3" cy="203.6" r="0.95" fill="#33a02c" fill-opacity="0.9"/>
<circle cx="602.9" cy="200.8" r="0.95" fill="#33a02c" fill-opacity="0.9"/>
<circle cx="607.2" cy="204.2" r="0.95" fill="#33a02c" fill-opacity="0.9"/>
<circle cx="605.9" cy="209.0" r="0.95" fill="#33a02c" fill-opacity="0.9"/>
<circle cx="603.4" cy="204.7" r="0.95" fill="#33a02c" fill-opacity="0.9"/>
<circle cx="612.3" cy="199.5" r="0.95" fill="#33a02c" fill-opacity="0.9"/>
<circle cx="610.2" cy="209.4" r="0.95" fill="#33a02c" fill-opacity="0.9"/>
<circle cx="598.2" cy="199.2" r="0.95" fill="#33a02c" fill-opacity="0.9"/>
<circle cx="599.8" cy="196.5" r="0.95" fill="#33a02c" fill-opacity="0.9"/>
<circle cx="605.7" cy="207.8" r="0.95" fill="#33a02c" fill-opacity="0.9"/>
<circle cx="606.0" cy="211.7" r="0.95" fill="#33a02c" fill-opacity="0.9"/>
<circle cx="598.6" cy="209.7" r="0.95" fill="#33a02c" fill-opacity="0.9"/>
<circle cx="603.3" cy="210.7" r="0.95" fill="#33a02c" fill-opacity="0.9"/>
<circle cx="600.9" cy="210.0" r="0.95" fill="#33a02c" fill-opacity="0.9"/>
<circle cx="599.7" cy="210.1" r="0.95" fill="#33a02c" fill-opacity="0.9"/>
<circle cx="596.0" cy="210.1" r="0.95" fill="#33a02c" fill-opacity="0.9"/>
<circle cx="614.5" cy="210.1" r="0.95" fill="#33a02c" fill-opacity="0.9"/>
<circle cx="595.4" cy="210.3" r="0.95" fill="#33a02c" fill-opacity="0.9"/>
<circle cx="597.2" cy="208.0" r="0.95" fill="#33a02c" fill-opacity="0.9"/>
<circle cx="579.2" cy="233" r="0.95" fill="#ee8050"/>
<circle cx="595.2" cy="215.6" r="0.95" fill="#ee8050"/>
<circle cx="623.2" cy="215.6" r="0.95" fill="#ee8050"/>
<circle cx="623.9" cy="226.2" r="0.95" fill="#ee8050"/>
<circle cx="609.5" cy="239.8" r="0.95" fill="#ee8050"/>
<circle cx="596.0" cy="225.7" r="0.95" fill="#ee8050" fill-opacity="0.9"/>
<circle cx="622.1" cy="217.4" r="0.95" fill="#ee8050" fill-opacity="0.9"/>
<circle cx="607.7" cy="231.0" r="0.95" fill="#ee8050" fill-opacity="0.9"/>
<circle cx="609.7" cy="238.1" r="0.95" fill="#ee8050" fill-opacity="0.9"/>
<circle cx="602.0" cy="227.3" r="0.95" fill="#ee8050" fill-opacity="0.9"/>
<circle cx="619.3" cy="216.4" r="0.95" fill="#ee8050" fill-opacity="0.9"/>
<circle cx="611.3" cy="230.7" r="0.95" fill="#ee8050" fill-opacity="0.9"/>
<circle cx="595.6" cy="227.1" r="0.95" fill="#ee8050" fill-opacity="0.9"/>
<circle cx="602.7" cy="234.2" r="0.95" fill="#ee8050" fill-opacity="0.9"/>
<circle cx="588.6" cy="226.1" r="0.95" fill="#ee8050" fill-opacity="0.9"/>
<circle cx="598.1" cy="229.0" r="0.95" fill="#ee8050" fill-opacity="0.9"/>
<circle cx="616.2" cy="222.7" r="0.95" fill="#ee8050" fill-opacity="0.9"/>
<circle cx="616.2" cy="225.4" r="0.95" fill="#ee8050" fill-opacity="0.9"/>
<circle cx="601.7" cy="222.2" r="0.95" fill="#ee8050" fill-opacity="0.9"/>
<circle cx="608.5" cy="234.8" r="0.95" fill="#ee8050" fill-opacity="0.9"/>
<circle cx="594.0" cy="223.3" r="0.95" fill="#ee8050" fill-opacity="0.9"/>
<circle cx="592.6" cy="229.8" r="0.95" fill="#ee8050" fill-opacity="0.9"/>
<circle cx="607.6" cy="234.6" r="0.95" fill="#ee8050" fill-opacity="0.9"/>
<circle cx="581.0" cy="233.1" r="0.95" fill="#ee8050" fill-opacity="0.9"/>
<circle cx="618.8" cy="228.8" r="0.95" fill="#ee8050" fill-opacity="0.9"/>
<circle cx="608.6" cy="234.7" r="0.95" fill="#ee8050" fill-opacity="0.9"/>
<circle cx="606.8" cy="230.8" r="0.95" fill="#ee8050" fill-opacity="0.9"/>
<circle cx="610.3" cy="230.0" r="0.95" fill="#ee8050" fill-opacity="0.9"/>
<circle cx="609.6" cy="220.7" r="0.95" fill="#ee8050" fill-opacity="0.9"/>
<circle cx="609.0" cy="226.7" r="0.95" fill="#ee8050" fill-opacity="0.9"/>
<circle cx="613.3" cy="218.1" r="0.95" fill="#ee8050" fill-opacity="0.9"/>
<circle cx="608.5" cy="224.5" r="0.95" fill="#ee8050" fill-opacity="0.9"/>
<circle cx="604.3" cy="221.8" r="0.95" fill="#ee8050" fill-opacity="0.9"/>
<circle cx="592.7" cy="225.8" r="0.95" fill="#ee8050" fill-opacity="0.9"/>
<circle cx="593.4" cy="226.0" r="0.95" fill="#ee8050" fill-opacity="0.9"/>
<circle cx="614.5" cy="244.8" r="0.95" fill="#e6403c"/>
<circle cx="622.7" cy="231.4" r="0.95" fill="#e6403c"/>
<circle cx="630.3" cy="228.4" r="0.95" fill="#e6403c"/>
<circle cx="640.2" cy="238.4" r="0.95" fill="#e6403c"/>
<circle cx="651.9" cy="257.6" r="0.95" fill="#e6403c"/>
<circle cx="626.8" cy="258.8" r="0.95" fill="#e6403c"/>
<circle cx="616.9" cy="251.2" r="0.95" fill="#e6403c"/>
<circle cx="638.5" cy="256.8" r="0.95" fill="#e6403c" fill-opacity="0.9"/>
<circle cx="616.5" cy="245.7" r="0.95" fill="#e6403c" fill-opacity="0.9"/>
<circle cx="636.6" cy="256.9" r="0.95" fill="#e6403c" fill-opacity="0.9"/>
<circle cx="629.9" cy="231.5" r="0.95" fill="#e6403c" fill-opacity="0.9"/>
<circle cx="641.2" cy="254.4" r="0.95" fill="#e6403c" fill-opacity="0.9"/>
<circle cx="638.0" cy="250.0" r="0.95" fill="#e6403c" fill-opacity="0.9"/>
<circle cx="631.7" cy="256.7" r="0.95" fill="#e6403c" fill-opacity="0.9"/>
<circle cx="626.1" cy="250.6" r="0.95" fill="#e6403c" fill-opacity="0.9"/>
<circle cx="628.2" cy="245.9" r="0.95" fill="#e6403c" fill-opacity="0.9"/>
<circle cx="630.9" cy="249.0" r="0.95" fill="#e6403c" fill-opacity="0.9"/>
<circle cx="619.9" cy="252.6" r="0.95" fill="#e6403c" fill-opacity="0.9"/>
<circle cx="628.1" cy="248.0" r="0.95" fill="#e6403c" fill-opacity="0.9"/>
<circle cx="638.1" cy="241.1" r="0.95" fill="#e6403c" fill-opacity="0.9"/>
<circle cx="628.9" cy="252.3" r="0.95" fill="#e6403c" fill-opacity="0.9"/>
<circle cx="635.7" cy="237.3" r="0.95" fill="#e6403c" fill-opacity="0.9"/>
<circle cx="640.8" cy="253.6" r="0.95" fill="#e6403c" fill-opacity="0.9"/>
<circle cx="527" cy="271.4" r="0.95" fill="#7b4cb0"/>
<circle cx="518" cy="284.5" r="0.95" fill="#7b4cb0"/>
<circle cx="527.6" cy="313.9" r="0.95" fill="#7b4cb0"/>
<circle cx="557.3" cy="308" r="0.95" fill="#7b4cb0"/>
<circle cx="531.0" cy="297.1" r="0.95" fill="#7b4cb0" fill-opacity="0.9"/>
<circle cx="534.8" cy="309.1" r="0.95" fill="#7b4cb0" fill-opacity="0.9"/>
<circle cx="532.8" cy="300.5" r="0.95" fill="#7b4cb0" fill-opacity="0.9"/>
<circle cx="31.7" cy="530.5" r="0.95" fill="#6cc04a"/>
<circle cx="57.1" cy="510.8" r="0.95" fill="#6cc04a"/>
<circle cx="70.5" cy="514.1" r="0.95" fill="#6cc04a"/>
<circle cx="89.8" cy="534.1" r="0.95" fill="#6cc04a"/>
<circle cx="94.7" cy="551.7" r="0.95" fill="#6cc04a"/>
<circle cx="93.5" cy="575.3" r="0.95" fill="#6cc04a"/>
<circle cx="54.1" cy="571.1" r="0.95" fill="#6cc04a"/>
<circle cx="69.6" cy="568.6" r="0.95" fill="#6cc04a" fill-opacity="0.9"/>
<circle cx="82.6" cy="529.1" r="0.95" fill="#6cc04a" fill-opacity="0.9"/>
<circle cx="58.3" cy="548.6" r="0.95" fill="#6cc04a" fill-opacity="0.9"/>
<circle cx="83.1" cy="568.0" r="0.95" fill="#6cc04a" fill-opacity="0.9"/>
<circle cx="82.8" cy="566.7" r="0.95" fill="#6cc04a" fill-opacity="0.9"/>
<circle cx="67.7" cy="528.5" r="0.95" fill="#6cc04a" fill-opacity="0.9"/>
<circle cx="85.3" cy="562.9" r="0.95" fill="#6cc04a" fill-opacity="0.9"/>
<circle cx="74.8" cy="569.7" r="0.95" fill="#6cc04a" fill-opacity="0.9"/>
<circle cx="53.6" cy="516.3" r="0.95" fill="#6cc04a" fill-opacity="0.9"/>
<circle cx="66.6" cy="562.2" r="0.95" fill="#6cc04a" fill-opacity="0.9"/>
<circle cx="69.9" cy="554.5" r="0.95" fill="#6cc04a" fill-opacity="0.9"/>
<circle cx="61.0" cy="524.1" r="0.95" fill="#6cc04a" fill-opacity="0.9"/>
<circle cx="47.7" cy="559.2" r="0.95" fill="#6cc04a" fill-opacity="0.9"/>
<circle cx="81.6" cy="540.5" r="0.95" fill="#6cc04a" fill-opacity="0.9"/>
<circle cx="80.3" cy="525.8" r="0.95" fill="#6cc04a" fill-opacity="0.9"/>
<circle cx="68.2" cy="568.7" r="0.95" fill="#6cc04a" fill-opacity="0.9"/>
<circle cx="87.5" cy="544.5" r="0.95" fill="#6cc04a" fill-opacity="0.9"/>
<circle cx="61.7" cy="548.8" r="0.95" fill="#6cc04a" fill-opacity="0.9"/>
<circle cx="43.6" cy="523.2" r="0.95" fill="#6cc04a" fill-opacity="0.9"/>
<circle cx="54.6" cy="547.2" r="0.95" fill="#6cc04a" fill-opacity="0.9"/>
<circle cx="57.1" cy="544.2" r="0.95" fill="#6cc04a" fill-opacity="0.9"/>
<circle cx="69.3" cy="533.0" r="0.95" fill="#6cc04a" fill-opacity="0.9"/>
<circle cx="86.3" cy="542.2" r="0.95" fill="#6cc04a" fill-opacity="0.9"/>
<circle cx="67.4" cy="527.7" r="0.95" fill="#6cc04a" fill-opacity="0.9"/>
<circle cx="80.8" cy="538.3" r="0.95" fill="#6cc04a" fill-opacity="0.9"/>
<circle cx="91.3" cy="560.3" r="0.95" fill="#6cc04a" fill-opacity="0.9"/>
<circle cx="83.3" cy="572.9" r="0.95" fill="#6cc04a" fill-opacity="0.9"/>
<circle cx="44.4" cy="522.5" r="0.95" fill="#6cc04a" fill-opacity="0.9"/>
<circle cx="66.8" cy="567.0" r="0.95" fill="#6cc04a" fill-opacity="0.9"/>
<circle cx="69.4" cy="536.4" r="0.95" fill="#6cc04a" fill-opacity="0.9"/>
<circle cx="47.9" cy="547.2" r="0.95" fill="#6cc04a" fill-opacity="0.9"/>
<circle cx="72.1" cy="572.5" r="0.95" fill="#6cc04a" fill-opacity="0.9"/>
<circle cx="73.9" cy="536.2" r="0.95" fill="#6cc04a" fill-opacity="0.9"/>
<circle cx="59.9" cy="521.1" r="0.95" fill="#6cc04a" fill-opacity="0.9"/>
<circle cx="92.5" cy="574.8" r="0.95" fill="#6cc04a" fill-opacity="0.9"/>
<circle cx="47.8" cy="533.5" r="0.95" fill="#6cc04a" fill-opacity="0.9"/>
<circle cx="88.6" cy="569.1" r="0.95" fill="#6cc04a" fill-opacity="0.9"/>
<circle cx="81.2" cy="556.6" r="0.95" fill="#6cc04a" fill-opacity="0.9"/>
<circle cx="79.3" cy="571.4" r="0.95" fill="#6cc04a" fill-opacity="0.9"/>
<circle cx="74.3" cy="530.1" r="0.95" fill="#6cc04a" fill-opacity="0.9"/>
<circle cx="118.9" cy="471.7" r="0.95" fill="#7b4cb0"/>
<circle cx="199.5" cy="500" r="0.95" fill="#7b4cb0"/>
<circle cx="138.2" cy="521.1" r="0.95" fill="#7b4cb0"/>
<circle cx="132.9" cy="525.4" r="0.95" fill="#7b4cb0"/>
<circle cx="123.3" cy="527.2" r="0.95" fill="#7b4cb0"/>
<circle cx="104.9" cy="527.2" r="0.95" fill="#7b4cb0"/>
<circle cx="96.1" cy="499.7" r="0.95" fill="#7b4cb0"/>
<circle cx="100.5" cy="490.4" r="0.95" fill="#7b4cb0"/>
<circle cx="157.3" cy="513.8" r="0.95" fill="#7b4cb0" fill-opacity="0.9"/>
<circle cx="107.0" cy="489.7" r="0.95" fill="#7b4cb0" fill-opacity="0.9"/>
<circle cx="122.7" cy="478.6" r="0.95" fill="#7b4cb0" fill-opacity="0.9"/>
<circle cx="120.8" cy="479.6" r="0.95" fill="#7b4cb0" fill-opacity="0.9"/>
<circle cx="118.9" cy="523.5" r="0.95" fill="#7b4cb0" fill-opacity="0.9"/>
<circle cx="110.6" cy="496.5" r="0.95" fill="#7b4cb0" fill-opacity="0.9"/>
<circle cx="106.1" cy="523.2" r="0.95" fill="#7b4cb0" fill-opacity="0.9"/>
<circle cx="142.9" cy="490.6" r="0.95" fill="#7b4cb0" fill-opacity="0.9"/>
<circle cx="100.2" cy="550" r="0.95" fill="#f7921e"/>
<circle cx="129.1" cy="532.6" r="0.95" fill="#f7921e"/>
<circle cx="138.1" cy="532.6" r="0.95" fill="#f7921e"/>
<circle cx="148.4" cy="542.2" r="0.95" fill="#f7921e"/>
<circle cx="148.4" cy="550.6" r="0.95" fill="#f7921e"/>
<circle cx="139.4" cy="560.9" r="0.95" fill="#f7921e"/>
<circle cx="119.5" cy="560.9" r="0.95" fill="#f7921e"/>
<circle cx="139.9" cy="546.1" r="0.95" fill="#f7921e" fill-opacity="0.9"/>
<circle cx="130.5" cy="536.6" r="0.95" fill="#f7921e" fill-opacity="0.9"/>
<circle cx="134.6" cy="548.3" r="0.95" fill="#f7921e" fill-opacity="0.9"/>
<circle cx="113.0" cy="544.3" r="0.95" fill="#f7921e" fill-opacity="0.9"/>
<circle cx="140.7" cy="542.1" r="0.95" fill="#f7921e" fill-opacity="0.9"/>
<circle cx="108.3" cy="546.5" r="0.95" fill="#f7921e" fill-opacity="0.9"/>
<circle cx="115.5" cy="558.2" r="0.95" fill="#f7921e" fill-opacity="0.9"/>
<circle cx="132.4" cy="538.6" r="0.95" fill="#f7921e" fill-opacity="0.9"/>
<circle cx="123.2" cy="540.7" r="0.95" fill="#f7921e" fill-opacity="0.9"/>
<circle cx="135.2" cy="540.9" r="0.95" fill="#f7921e" fill-opacity="0.9"/>
<circle cx="139.1" cy="542.2" r="0.95" fill="#f7921e" fill-opacity="0.9"/>
<circle cx="140.3" cy="547.5" r="0.95" fill="#f7921e" fill-opacity="0.9"/>
<circle cx="109.2" cy="544.9" r="0.95" fill="#f7921e" fill-opacity="0.9"/>
<circle cx="144.2" cy="538.8" r="0.95" fill="#f7921e" fill-opacity="0.9"/>
<circle cx="131.0" cy="548.4" r="0.95" fill="#f7921e" fill-opacity="0.9"/>
<circle cx="135.9" cy="552.9" r="0.95" fill="#f7921e" fill-opacity="0.9"/>
<circle cx="132.4" cy="547.4" r="0.95" fill="#f7921e" fill-opacity="0.9"/>
<circle cx="134.5" cy="549.5" r="0.95" fill="#f7921e" fill-opacity="0.9"/>
<circle cx="129.4" cy="547.2" r="0.95" fill="#f7921e" fill-opacity="0.9"/>
<circle cx="132.6" cy="550.7" r="0.95" fill="#f7921e" fill-opacity="0.9"/>
<circle cx="128.2" cy="546.5" r="0.95" fill="#f7921e" fill-opacity="0.9"/>
<circle cx="135.0" cy="545.9" r="0.95" fill="#f7921e" fill-opacity="0.9"/>
<circle cx="133.4" cy="549.9" r="0.95" fill="#f7921e" fill-opacity="0.9"/>
<circle cx="132.6" cy="546.5" r="0.95" fill="#f7921e" fill-opacity="0.9"/>
<circle cx="132.8" cy="548.2" r="0.95" fill="#f7921e" fill-opacity="0.9"/>
<circle cx="134.3" cy="546.9" r="0.95" fill="#f7921e" fill-opacity="0.9"/>
<circle cx="137.4" cy="544.8" r="0.95" fill="#f7921e" fill-opacity="0.9"/>
<circle cx="132.3" cy="549.0" r="0.95" fill="#f7921e" fill-opacity="0.9"/>
<circle cx="130.4" cy="571.9" r="0.95" fill="#e6403c"/>
<circle cx="145.9" cy="559" r="0.95" fill="#e6403c"/>
<circle cx="151.7" cy="555.1" r="0.95" fill="#e6403c"/>
<circle cx="163.9" cy="559" r="0.95" fill="#e6403c"/>
<circle cx="173.6" cy="597" r="0.95" fill="#e6403c"/>
<circle cx="149.1" cy="607.9" r="0.95" fill="#e6403c"/>
<circle cx="130.8" cy="606.6" r="0.95" fill="#e6403c"/>
<circle cx="138.4" cy="599.0" r="0.95" fill="#e6403c" fill-opacity="0.9"/>
<circle cx="146.3" cy="563.7" r="0.95" fill="#e6403c" fill-opacity="0.9"/>
<circle cx="146.4" cy="586.5" r="0.95" fill="#e6403c" fill-opacity="0.9"/>
<circle cx="130.6" cy="582.5" r="0.95" fill="#e6403c" fill-opacity="0.9"/>
<circle cx="149.7" cy="582.3" r="0.95" fill="#e6403c" fill-opacity="0.9"/>
<circle cx="135.6" cy="592.8" r="0.95" fill="#e6403c" fill-opacity="0.9"/>
<circle cx="144.3" cy="592.7" r="0.95" fill="#e6403c" fill-opacity="0.9"/>
<circle cx="146.9" cy="594.8" r="0.95" fill="#e6403c" fill-opacity="0.9"/>
<circle cx="133.0" cy="601.2" r="0.95" fill="#e6403c" fill-opacity="0.9"/>
<circle cx="152.6" cy="583.1" r="0.95" fill="#e6403c" fill-opacity="0.9"/>
<circle cx="153.6" cy="556.2" r="0.95" fill="#e6403c" fill-opacity="0.9"/>
<circle cx="141.2" cy="598.2" r="0.95" fill="#e6403c" fill-opacity="0.9"/>
<circle cx="153.7" cy="563.3" r="0.95" fill="#e6403c" fill-opacity="0.9"/>
<circle cx="149.8" cy="560.5" r="0.95" fill="#e6403c" fill-opacity="0.9"/>
<circle cx="159.1" cy="563.6" r="0.95" fill="#e6403c" fill-opacity="0.9"/>
<circle cx="144.5" cy="560.8" r="0.95" fill="#e6403c" fill-opacity="0.9"/>
<circle cx="150.2" cy="561.2" r="0.95" fill="#e6403c" fill-opacity="0.9"/>
<circle cx="157.5" cy="558.4" r="0.95" fill="#e6403c" fill-opacity="0.9"/>
<circle cx="154.0" cy="563.6" r="0.95" fill="#e6403c" fill-opacity="0.9"/>
<circle cx="143.9" cy="563.2" r="0.95" fill="#e6403c" fill-opacity="0.9"/>
<circle cx="150.4" cy="565.0" r="0.95" fill="#e6403c" fill-opacity="0.9"/>
<circle cx="148.3" cy="564.2" r="0.95" fill="#e6403c" fill-opacity="0.9"/>
<circle cx="155.7" cy="567.2" r="0.95" fill="#e6403c" fill-opacity="0.9"/>
<circle cx="150.9" cy="560.6" r="0.95" fill="#e6403c" fill-opacity="0.9"/>
<circle cx="146.2" cy="565.7" r="0.95" fill="#e6403c" fill-opacity="0.9"/>
<circle cx="154.9" cy="558.9" r="0.95" fill="#e6403c" fill-opacity="0.9"/>
<circle cx="139.7" cy="568.8" r="0.95" fill="#e6403c" fill-opacity="0.9"/>
<circle cx="151.9" cy="559.4" r="0.95" fill="#e6403c" fill-opacity="0.9"/>
<circle cx="151.3" cy="566.6" r="0.95" fill="#e6403c" fill-opacity="0.9"/>
<circle cx="157.8" cy="564.6" r="0.95" fill="#e6403c" fill-opacity="0.9"/>
<circle cx="151.0" cy="567.2" r="0.95" fill="#e6403c" fill-opacity="0.9"/>
<circle cx="147.2" cy="560.2" r="0.95" fill="#e6403c" fill-opacity="0.9"/>
<circle cx="148.8" cy="562.7" r="0.95" fill="#e6403c" fill-opacity="0.9"/>
<circle cx="144.5" cy="564.9" r="0.95" fill="#e6403c" fill-opacity="0.9"/>
<circle cx="54.9" cy="618.6" r="0.95" fill="#86bde0"/>
<circle cx="64.3" cy="606.4" r="0.95" fill="#86bde0"/>
<circle cx="91.1" cy="595.3" r="0.95" fill="#86bde0"/>
<circle cx="115.7" cy="605.8" r="0.95" fill="#86bde0"/>
<circle cx="70.1" cy="652.1" r="0.95" fill="#86bde0"/>
<circle cx="93.9" cy="610.4" r="0.95" fill="#86bde0" fill-opacity="0.9"/>
<circle cx="96.1" cy="610.8" r="0.95" fill="#86bde0" fill-opacity="0.9"/>
<circle cx="92.7" cy="609.5" r="0.95" fill="#86bde0" fill-opacity="0.9"/>
<circle cx="86.5" cy="619.9" r="0.95" fill="#86bde0" fill-opacity="0.9"/>
<circle cx="73.5" cy="632.1" r="0.95" fill="#86bde0" fill-opacity="0.9"/>
<circle cx="62.2" cy="629.1" r="0.95" fill="#86bde0" fill-opacity="0.9"/>
<circle cx="71.2" cy="621.8" r="0.95" fill="#86bde0" fill-opacity="0.9"/>
<circle cx="87.4" cy="603.7" r="0.95" fill="#86bde0" fill-opacity="0.9"/>
<circle cx="72.8" cy="618.4" r="0.95" fill="#86bde0" fill-opacity="0.9"/>
<circle cx="72.4" cy="609.1" r="0.95" fill="#86bde0" fill-opacity="0.9"/>
<circle cx="60.2" cy="626.3" r="0.95" fill="#86bde0" fill-opacity="0.9"/>
<circle cx="89.6" cy="632.2" r="0.95" fill="#86bde0" fill-opacity="0.9"/>
<circle cx="237.9" cy="617.6" r="0.95" fill="#e6403c"/>
<circle cx="275.8" cy="587.9" r="0.95" fill="#e6403c"/>
<circle cx="279.5" cy="598.4" r="0.95" fill="#e6403c"/>
<circle cx="257.1" cy="604.2" r="0.95" fill="#e6403c" fill-opacity="0.9"/>
<circle cx="263.4" cy="601.8" r="0.95" fill="#e6403c" fill-opacity="0.9"/>
<circle cx="253.8" cy="605.3" r="0.95" fill="#e6403c" fill-opacity="0.9"/>
<circle cx="281.8" cy="548.2" r="0.95" fill="#f7921e"/>
<circle cx="320.5" cy="549.8" r="0.95" fill="#f7921e"/>
<circle cx="335" cy="572.9" r="0.95" fill="#f7921e"/>
<circle cx="305.3" cy="591.1" r="0.95" fill="#f7921e"/>
<circle cx="311.4" cy="569.3" r="0.95" fill="#f7921e" fill-opacity="0.9"/>
<circle cx="290.2" cy="551.1" r="0.95" fill="#f7921e" fill-opacity="0.9"/>
<circle cx="328.2" cy="567.1" r="0.95" fill="#f7921e" fill-opacity="0.9"/>
<circle cx="305.2" cy="579.7" r="0.95" fill="#f7921e" fill-opacity="0.9"/>
<circle cx="287.6" cy="557.9" r="0.95" fill="#f7921e" fill-opacity="0.9"/>
<circle cx="331.4" cy="538.1" r="0.95" fill="#6cc04a"/>
<circle cx="353.2" cy="532.9" r="0.95" fill="#6cc04a"/>
<circle cx="355" cy="544.4" r="0.95" fill="#6cc04a"/>
<circle cx="341.7" cy="561.4" r="0.95" fill="#6cc04a"/>
<circle cx="335.0" cy="542.5" r="0.95" fill="#6cc04a" fill-opacity="0.9"/>
<circle cx="339.7" cy="552.1" r="0.95" fill="#6cc04a" fill-opacity="0.9"/>
<circle cx="350.8" cy="547.7" r="0.95" fill="#6cc04a" fill-opacity="0.9"/>
<circle cx="349.3" cy="546.4" r="0.95" fill="#6cc04a" fill-opacity="0.9"/>
<circle cx="353.0" cy="536.5" r="0.95" fill="#6cc04a" fill-opacity="0.9"/>
<circle cx="362.4" cy="555.8" r="0.95" fill="#86bde0"/>
<circle cx="373.3" cy="569.1" r="0.95" fill="#86bde0"/>
<circle cx="366.1" cy="577.6" r="0.95" fill="#86bde0"/>
<circle cx="349.7" cy="575.8" r="0.95" fill="#86bde0"/>
<circle cx="367.8" cy="568.6" r="0.95" fill="#86bde0" fill-opacity="0.9"/>
<circle cx="361.5" cy="576.8" r="0.95" fill="#86bde0" fill-opacity="0.9"/>
<circle cx="363.2" cy="564.9" r="0.95" fill="#86bde0" fill-opacity="0.9"/>
<circle cx="368.2" cy="574.8" r="0.95" fill="#86bde0" fill-opacity="0.9"/>
<circle cx="375.2" cy="571.3" r="0.95" fill="#7b4cb0"/>
<circle cx="387.9" cy="580" r="0.95" fill="#7b4cb0"/>
<circle cx="386.7" cy="598.2" r="0.95" fill="#7b4cb0"/>
<circle cx="377" cy="583" r="0.95" fill="#7b4cb0"/>
<circle cx="382.9" cy="581.5" r="0.95" fill="#7b4cb0" fill-opacity="0.9"/>
<circle cx="380.9" cy="583.6" r="0.95" fill="#7b4cb0" fill-opacity="0.9"/>
<circle cx="384.4" cy="579.2" r="0.95" fill="#7b4cb0" fill-opacity="0.9"/>
<circle cx="380.2" cy="586.2" r="0.95" fill="#7b4cb0" fill-opacity="0.9"/>
<circle cx="486.8" cy="608.5" r="0.95" fill="#e6403c"/>
<circle cx="507.2" cy="625" r="0.95" fill="#e6403c"/>
<circle cx="547.4" cy="589.9" r="0.95" fill="#f7921e"/>
<circle cx="569.3" cy="608.2" r="0.95" fill="#f7921e"/>
<circle cx="535.4" cy="615.5" r="0.95" fill="#f7921e"/>
<circle cx="548.4" cy="598.1" r="0.95" fill="#f7921e" fill-opacity="0.9"/>
<circle cx="563" cy="545.7" r="0.95" fill="#86bde0"/>
<circle cx="579.7" cy="548" r="0.95" fill="#86bde0"/>
<circle cx="600.2" cy="557.5" r="0.95" fill="#86bde0"/>
<circle cx="584.4" cy="576.1" r="0.95" fill="#86bde0"/>
<circle cx="581.6" cy="559.2" r="0.95" fill="#86bde0" fill-opacity="0.9"/>
<circle cx="610" cy="567.5" r="0.95" fill="#6cc04a"/>
<circle cx="623.7" cy="557.1" r="0.95" fill="#6cc04a"/>
<circle cx="634.7" cy="592.2" r="0.95" fill="#6cc04a"/>
<circle cx="621.4" cy="600.7" r="0.95" fill="#6cc04a"/>
<circle cx="601.5" cy="605.5" r="0.95" fill="#6cc04a"/>
<circle cx="600.9" cy="590.3" r="0.95" fill="#6cc04a"/>
<circle cx="605.8" cy="585.0" r="0.95" fill="#6cc04a" fill-opacity="0.9"/>
<circle cx="620.6" cy="561.4" r="0.95" fill="#6cc04a" fill-opacity="0.9"/>
<circle cx="615.3" cy="601.2" r="0.95" fill="#6cc04a" fill-opacity="0.9"/>
<circle cx="620.0" cy="581.2" r="0.95" fill="#6cc04a" fill-opacity="0.9"/>
<circle cx="618.4" cy="582.1" r="0.95" fill="#6cc04a" fill-opacity="0.9"/>
<circle cx="624.1" cy="576.0" r="0.95" fill="#6cc04a" fill-opacity="0.9"/>
<circle cx="613.0" cy="585.9" r="0.95" fill="#6cc04a" fill-opacity="0.9"/>
<circle cx="623.8" cy="582.5" r="0.95" fill="#6cc04a" fill-opacity="0.9"/>
<circle cx="638.4" cy="597.4" r="0.95" fill="#7b4cb0"/>
<circle cx="645.6" cy="589.4" r="0.95" fill="#7b4cb0"/>
<circle cx="674.4" cy="608.7" r="0.95" fill="#7b4cb0"/>
<circle cx="667.7" cy="623.6" r="0.95" fill="#7b4cb0"/>
<circle cx="638.9" cy="600.6" r="0.95" fill="#7b4cb0"/>
<circle cx="642.0" cy="602.2" r="0.95" fill="#7b4cb0" fill-opacity="0.9"/>
<circle cx="652.8" cy="608.6" r="0.95" fill="#7b4cb0" fill-opacity="0.9"/>
<path d="M24.20,223.81H29.00M26.60,221.41V226.21" stroke="#f29368" stroke-width="0.6"/>
<path d="M67.15,203.65H71.95M69.55,201.25V206.05" stroke="#e6403c" stroke-width="0.6"/>
<path d="M91.10,203.18H95.90M93.50,200.78V205.58" stroke="#3a9a82" stroke-width="0.6"/>
<path d="M113.90,199.21H118.70M116.30,196.81V201.61" stroke="#6a3d9a" stroke-width="0.6"/>
<path d="M101.60,221.83H106.40M104.00,219.43V224.23" stroke="#fdae5c" stroke-width="0.6"/>
<path d="M69.20,237.44H74.00M71.60,235.04V239.84" stroke="#33a02c" stroke-width="0.6"/>
<path d="M137.00,215.98H141.80M139.40,213.58V218.38" stroke="#86bde0" stroke-width="0.6"/>
<path d="M282.30,237.00H287.10M284.70,234.60V239.40" stroke="#fdae5c" stroke-width="0.6"/>
<path d="M310.70,204.79H315.50M313.10,202.39V207.19" stroke="#3a9a82" stroke-width="0.6"/>
<path d="M336.95,202.15H341.75M339.35,199.75V204.55" stroke="#86bde0" stroke-width="0.6"/>
<path d="M327.95,225.65H332.75M330.35,223.25V228.05" stroke="#33a02c" stroke-width="0.6"/>
<path d="M354.40,207.83H359.20M356.80,205.43V210.23" stroke="#6a3d9a" stroke-width="0.6"/>
<path d="M361.45,217.58H366.25M363.85,215.18V219.98" stroke="#e6403c" stroke-width="0.6"/>
<path d="M374.10,229.50H378.90M376.50,227.10V231.90" stroke="#ee8050" stroke-width="0.6"/>
<path d="M535.25,187.12H540.05M537.65,184.72V189.52" stroke="#3a9a82" stroke-width="0.6"/>
<path d="M514.45,220.07H519.25M516.85,217.67V222.47" stroke="#fdae5c" stroke-width="0.6"/>
<path d="M576.10,190.51H580.90M578.50,188.11V192.91" stroke="#86bde0" stroke-width="0.6"/>
<path d="M604.30,202.63H609.10M606.70,200.23V205.03" stroke="#33a02c" stroke-width="0.6"/>
<path d="M607.00,225.05H611.80M609.40,222.65V227.45" stroke="#ee8050" stroke-width="0.6"/>
<path d="M627.05,242.71H631.85M629.45,240.31V245.11" stroke="#e6403c" stroke-width="0.6"/>
<path d="M530.20,294.79H535.00M532.60,292.39V297.19" stroke="#7b4cb0" stroke-width="0.6"/>
<path d="M64.50,546.86H69.30M66.90,544.46V549.26" stroke="#6cc04a" stroke-width="0.6"/>
<path d="M121.90,511.21H126.70M124.30,508.81V513.61" stroke="#7b4cb0" stroke-width="0.6"/>
<path d="M130.60,550.12H135.40M133.00,547.72V552.52" stroke="#f7921e" stroke-width="0.6"/>
<path d="M148.95,571.96H153.75M151.35,569.56V574.36" stroke="#e6403c" stroke-width="0.6"/>
<path d="M77.75,626.03H82.55M80.15,623.63V628.43" stroke="#86bde0" stroke-width="0.6"/>
<path d="M262.15,601.93H266.95M264.55,599.53V604.33" stroke="#e6403c" stroke-width="0.6"/>
<path d="M312.60,570.46H317.40M315.00,568.06V572.86" stroke="#f7921e" stroke-width="0.6"/>
<path d="M342.00,547.14H346.80M344.40,544.74V549.54" stroke="#6cc04a" stroke-width="0.6"/>
<path d="M359.00,568.56H363.80M361.40,566.16V570.96" stroke="#86bde0" stroke-width="0.6"/>
<path d="M378.20,583.61H383.00M380.60,581.21V586.00" stroke="#7b4cb0" stroke-width="0.6"/>
<path d="M494.25,617.38H499.05M496.65,614.98V619.78" stroke="#e6403c" stroke-width="0.6"/>
<path d="M547.90,605.56H552.70M550.30,603.16V607.96" stroke="#f7921e" stroke-width="0.6"/>
<path d="M579.95,559.90H584.75M582.35,557.50V562.30" stroke="#86bde0" stroke-width="0.6"/>
<path d="M615.95,586.66H620.75M618.35,584.26V589.06" stroke="#6cc04a" stroke-width="0.6"/>
<path d="M650.05,602.84H654.85M652.45,600.44V605.24" stroke="#7b4cb0" stroke-width="0.6"/>
<path d="M15.2,10.4V111.3H217.3" fill="none" stroke="#6e6e6e" stroke-width="1.05"/>
<line x1="26.80" y1="111.3" x2="26.80" y2="113.1" stroke="#6e6e6e" stroke-width="0.6"/>
<text x="26.80" y="117.75" font-size="5.0" fill="#3a3a3a" stroke="#3a3a3a" stroke-width="0.07" text-anchor="middle">1</text>
<line x1="46.65" y1="111.3" x2="46.65" y2="113.1" stroke="#6e6e6e" stroke-width="0.6"/>
<text x="46.65" y="117.75" font-size="5.0" fill="#3a3a3a" stroke="#3a3a3a" stroke-width="0.07" text-anchor="middle">2</text>
<line x1="66.50" y1="111.3" x2="66.50" y2="113.1" stroke="#6e6e6e" stroke-width="0.6"/>
<text x="66.50" y="117.75" font-size="5.0" fill="#3a3a3a" stroke="#3a3a3a" stroke-width="0.07" text-anchor="middle">3</text>
<line x1="86.35" y1="111.3" x2="86.35" y2="113.1" stroke="#6e6e6e" stroke-width="0.6"/>
<text x="86.35" y="117.75" font-size="5.0" fill="#3a3a3a" stroke="#3a3a3a" stroke-width="0.07" text-anchor="middle">4</text>
<line x1="106.20" y1="111.3" x2="106.20" y2="113.1" stroke="#6e6e6e" stroke-width="0.6"/>
<text x="106.20" y="117.75" font-size="5.0" fill="#3a3a3a" stroke="#3a3a3a" stroke-width="0.07" text-anchor="middle">5</text>
<line x1="126.05" y1="111.3" x2="126.05" y2="113.1" stroke="#6e6e6e" stroke-width="0.6"/>
<text x="126.05" y="117.75" font-size="5.0" fill="#3a3a3a" stroke="#3a3a3a" stroke-width="0.07" text-anchor="middle">6</text>
<line x1="145.90" y1="111.3" x2="145.90" y2="113.1" stroke="#6e6e6e" stroke-width="0.6"/>
<text x="145.90" y="117.75" font-size="5.0" fill="#3a3a3a" stroke="#3a3a3a" stroke-width="0.07" text-anchor="middle">7</text>
<line x1="165.75" y1="111.3" x2="165.75" y2="113.1" stroke="#6e6e6e" stroke-width="0.6"/>
<text x="165.75" y="117.75" font-size="5.0" fill="#3a3a3a" stroke="#3a3a3a" stroke-width="0.07" text-anchor="middle">8</text>
<line x1="185.60" y1="111.3" x2="185.60" y2="113.1" stroke="#6e6e6e" stroke-width="0.6"/>
<text x="185.60" y="117.75" font-size="5.0" fill="#3a3a3a" stroke="#3a3a3a" stroke-width="0.07" text-anchor="middle">9</text>
<line x1="205.45" y1="111.3" x2="205.45" y2="113.1" stroke="#6e6e6e" stroke-width="0.6"/>
<text x="205.45" y="117.75" font-size="5.0" fill="#3a3a3a" stroke="#3a3a3a" stroke-width="0.07" text-anchor="middle">10</text>
<line x1="13.399999999999999" y1="43.3" x2="15.2" y2="43.3" stroke="#6e6e6e" stroke-width="0.6"/>
<text x="13.2" y="45.10" font-size="5.0" fill="#3a3a3a" stroke="#3a3a3a" stroke-width="0.07" text-anchor="end">10</text>
<line x1="13.399999999999999" y1="81.8" x2="15.2" y2="81.8" stroke="#6e6e6e" stroke-width="0.6"/>
<text x="13.2" y="83.60" font-size="5.0" fill="#3a3a3a" stroke="#3a3a3a" stroke-width="0.07" text-anchor="end">5</text>
<path d="M26.80,14.30 L46.65,66.10 L66.50,82.20 L86.35,88.00 L106.20,94.30 L126.05,98.20 L145.90,101.00 L165.75,104.50 L185.60,104.10 L205.45,107.00" fill="none" stroke="#5790c8" stroke-width="0.78"/>
<rect x="25.90" y="13.40" width="1.8" height="1.8" fill="#5790c8"/>
<rect x="45.75" y="65.20" width="1.8" height="1.8" fill="#5790c8"/>
<rect x="65.60" y="81.30" width="1.8" height="1.8" fill="#5790c8"/>
<rect x="85.45" y="87.10" width="1.8" height="1.8" fill="#5790c8"/>
<rect x="105.30" y="93.40" width="1.8" height="1.8" fill="#5790c8"/>
<rect x="125.15" y="97.30" width="1.8" height="1.8" fill="#5790c8"/>
<rect x="145.00" y="100.10" width="1.8" height="1.8" fill="#5790c8"/>
<rect x="164.85" y="103.60" width="1.8" height="1.8" fill="#5790c8"/>
<rect x="184.70" y="103.20" width="1.8" height="1.8" fill="#5790c8"/>
<rect x="204.55" y="106.10" width="1.8" height="1.8" fill="#5790c8"/>
<text x="35.0" y="16.70" font-size="17.6" font-weight="bold" fill="#111">A</text>
<text transform="translate(2.60,61.0) rotate(-90) scale(0.847,1)" x="0" y="2.25" font-size="6.25" fill="#222" stroke="#222" stroke-width="0.05" text-anchor="middle">Total within sum of square</text>
<text transform="translate(114.2,123.55) scale(0.847,1)" x="0" y="0" font-size="6.25" fill="#262626" text-anchor="middle">Number of clusters</text>
<line x1="160.8" y1="81.5" x2="151.07" y2="94.05" stroke="#9b1b63" stroke-width="2.0" stroke-linecap="round"/>
<path d="M147.7,98.4 L149.30,90.78 L151.25,93.82 L154.68,94.95Z" fill="#9b1b63"/>
<path d="M233.5,9.5V111.5H435.6" fill="none" stroke="#6e6e6e" stroke-width="1.05"/>
<line x1="245.30" y1="111.5" x2="245.30" y2="113.3" stroke="#6e6e6e" stroke-width="0.6"/>
<text x="245.30" y="117.95" font-size="5.0" fill="#3a3a3a" stroke="#3a3a3a" stroke-width="0.07" text-anchor="middle">1</text>
<line x1="265.17" y1="111.5" x2="265.17" y2="113.3" stroke="#6e6e6e" stroke-width="0.6"/>
<text x="265.17" y="117.95" font-size="5.0" fill="#3a3a3a" stroke="#3a3a3a" stroke-width="0.07" text-anchor="middle">2</text>
<line x1="285.04" y1="111.5" x2="285.04" y2="113.3" stroke="#6e6e6e" stroke-width="0.6"/>
<text x="285.04" y="117.95" font-size="5.0" fill="#3a3a3a" stroke="#3a3a3a" stroke-width="0.07" text-anchor="middle">3</text>
<line x1="304.91" y1="111.5" x2="304.91" y2="113.3" stroke="#6e6e6e" stroke-width="0.6"/>
<text x="304.91" y="117.95" font-size="5.0" fill="#3a3a3a" stroke="#3a3a3a" stroke-width="0.07" text-anchor="middle">4</text>
<line x1="324.78" y1="111.5" x2="324.78" y2="113.3" stroke="#6e6e6e" stroke-width="0.6"/>
<text x="324.78" y="117.95" font-size="5.0" fill="#3a3a3a" stroke="#3a3a3a" stroke-width="0.07" text-anchor="middle">5</text>
<line x1="344.65" y1="111.5" x2="344.65" y2="113.3" stroke="#6e6e6e" stroke-width="0.6"/>
<text x="344.65" y="117.95" font-size="5.0" fill="#3a3a3a" stroke="#3a3a3a" stroke-width="0.07" text-anchor="middle">6</text>
<line x1="364.52" y1="111.5" x2="364.52" y2="113.3" stroke="#6e6e6e" stroke-width="0.6"/>
<text x="364.52" y="117.95" font-size="5.0" fill="#3a3a3a" stroke="#3a3a3a" stroke-width="0.07" text-anchor="middle">7</text>
<line x1="384.39" y1="111.5" x2="384.39" y2="113.3" stroke="#6e6e6e" stroke-width="0.6"/>
<text x="384.39" y="117.95" font-size="5.0" fill="#3a3a3a" stroke="#3a3a3a" stroke-width="0.07" text-anchor="middle">8</text>
<line x1="404.26" y1="111.5" x2="404.26" y2="113.3" stroke="#6e6e6e" stroke-width="0.6"/>
<text x="404.26" y="117.95" font-size="5.0" fill="#3a3a3a" stroke="#3a3a3a" stroke-width="0.07" text-anchor="middle">9</text>
<line x1="424.13" y1="111.5" x2="424.13" y2="113.3" stroke="#6e6e6e" stroke-width="0.6"/>
<text x="424.13" y="117.95" font-size="5.0" fill="#3a3a3a" stroke="#3a3a3a" stroke-width="0.07" text-anchor="middle">10</text>
<line x1="231.7" y1="24.9" x2="233.5" y2="24.9" stroke="#6e6e6e" stroke-width="0.6"/>
<text x="231.5" y="26.70" font-size="5.0" fill="#3a3a3a" stroke="#3a3a3a" stroke-width="0.07" text-anchor="end">20</text>
<line x1="231.7" y1="48.5" x2="233.5" y2="48.5" stroke="#6e6e6e" stroke-width="0.6"/>
<text x="231.5" y="50.30" font-size="5.0" fill="#3a3a3a" stroke="#3a3a3a" stroke-width="0.07" text-anchor="end">15</text>
<line x1="231.7" y1="72.3" x2="233.5" y2="72.3" stroke="#6e6e6e" stroke-width="0.6"/>
<text x="231.5" y="74.10" font-size="5.0" fill="#3a3a3a" stroke="#3a3a3a" stroke-width="0.07" text-anchor="end">10</text>
<line x1="231.7" y1="95.9" x2="233.5" y2="95.9" stroke="#6e6e6e" stroke-width="0.6"/>
<text x="231.5" y="97.70" font-size="5.0" fill="#3a3a3a" stroke="#3a3a3a" stroke-width="0.07" text-anchor="end">5</text>
<path d="M245.30,14.40 L265.17,69.60 L285.04,85.90 L304.91,92.90 L324.78,98.00 L344.65,101.60 L364.52,103.80 L384.39,105.90 L404.26,106.40 L424.13,107.10" fill="none" stroke="#5790c8" stroke-width="0.78"/>
<rect x="244.40" y="13.50" width="1.8" height="1.8" fill="#5790c8"/>
<rect x="264.27" y="68.70" width="1.8" height="1.8" fill="#5790c8"/>
<rect x="284.14" y="85.00" width="1.8" height="1.8" fill="#5790c8"/>
<rect x="304.01" y="92.00" width="1.8" height="1.8" fill="#5790c8"/>
<rect x="323.88" y="97.10" width="1.8" height="1.8" fill="#5790c8"/>
<rect x="343.75" y="100.70" width="1.8" height="1.8" fill="#5790c8"/>
<rect x="363.62" y="102.90" width="1.8" height="1.8" fill="#5790c8"/>
<rect x="383.49" y="105.00" width="1.8" height="1.8" fill="#5790c8"/>
<rect x="403.36" y="105.50" width="1.8" height="1.8" fill="#5790c8"/>
<rect x="423.23" y="106.20" width="1.8" height="1.8" fill="#5790c8"/>
<text x="253.0" y="16.50" font-size="17.6" font-weight="bold" fill="#111">B</text>
<text transform="translate(221.60,65.0) rotate(-90) scale(0.847,1)" x="0" y="2.29" font-size="6.37" fill="#222" stroke="#222" stroke-width="0.05" text-anchor="middle">Total within sum of square</text>
<text transform="translate(333.4,123.77) scale(0.847,1)" x="0" y="0" font-size="6.31" fill="#262626" text-anchor="middle">Number of clusters</text>
<line x1="379.2" y1="83.7" x2="369.28" y2="96.46" stroke="#9b1b63" stroke-width="2.0" stroke-linecap="round"/>
<path d="M365.9,100.8 L367.51,93.19 L369.46,96.22 L372.88,97.36Z" fill="#9b1b63"/>
<path d="M453.4,1.5V111.3H681.5" fill="none" stroke="#6e6e6e" stroke-width="1.05"/>
<line x1="466.50" y1="111.3" x2="466.50" y2="113.1" stroke="#6e6e6e" stroke-width="0.6"/>
<text x="466.50" y="117.10" font-size="5.0" fill="#3a3a3a" stroke="#3a3a3a" stroke-width="0.07" text-anchor="middle">1</text>
<line x1="488.95" y1="111.3" x2="488.95" y2="113.1" stroke="#6e6e6e" stroke-width="0.6"/>
<text x="488.95" y="117.10" font-size="5.0" fill="#3a3a3a" stroke="#3a3a3a" stroke-width="0.07" text-anchor="middle">2</text>
<line x1="511.40" y1="111.3" x2="511.40" y2="113.1" stroke="#6e6e6e" stroke-width="0.6"/>
<text x="511.40" y="117.10" font-size="5.0" fill="#3a3a3a" stroke="#3a3a3a" stroke-width="0.07" text-anchor="middle">3</text>
<line x1="533.85" y1="111.3" x2="533.85" y2="113.1" stroke="#6e6e6e" stroke-width="0.6"/>
<text x="533.85" y="117.10" font-size="5.0" fill="#3a3a3a" stroke="#3a3a3a" stroke-width="0.07" text-anchor="middle">4</text>
<line x1="556.30" y1="111.3" x2="556.30" y2="113.1" stroke="#6e6e6e" stroke-width="0.6"/>
<text x="556.30" y="117.10" font-size="5.0" fill="#3a3a3a" stroke="#3a3a3a" stroke-width="0.07" text-anchor="middle">5</text>
<line x1="578.75" y1="111.3" x2="578.75" y2="113.1" stroke="#6e6e6e" stroke-width="0.6"/>
<text x="578.75" y="117.10" font-size="5.0" fill="#3a3a3a" stroke="#3a3a3a" stroke-width="0.07" text-anchor="middle">6</text>
<line x1="601.20" y1="111.3" x2="601.20" y2="113.1" stroke="#6e6e6e" stroke-width="0.6"/>
<text x="601.20" y="117.10" font-size="5.0" fill="#3a3a3a" stroke="#3a3a3a" stroke-width="0.07" text-anchor="middle">7</text>
<line x1="623.65" y1="111.3" x2="623.65" y2="113.1" stroke="#6e6e6e" stroke-width="0.6"/>
<text x="623.65" y="117.10" font-size="5.0" fill="#3a3a3a" stroke="#3a3a3a" stroke-width="0.07" text-anchor="middle">8</text>
<line x1="646.10" y1="111.3" x2="646.10" y2="113.1" stroke="#6e6e6e" stroke-width="0.6"/>
<text x="646.10" y="117.10" font-size="5.0" fill="#3a3a3a" stroke="#3a3a3a" stroke-width="0.07" text-anchor="middle">9</text>
<line x1="668.55" y1="111.3" x2="668.55" y2="113.1" stroke="#6e6e6e" stroke-width="0.6"/>
<text x="668.55" y="117.10" font-size="5.0" fill="#3a3a3a" stroke="#3a3a3a" stroke-width="0.07" text-anchor="middle">10</text>
<line x1="451.59999999999997" y1="5.8" x2="453.4" y2="5.8" stroke="#6e6e6e" stroke-width="0.6"/>
<text x="451.4" y="7.89" font-size="5.8" fill="#3a3a3a" stroke="#3a3a3a" stroke-width="0.07" text-anchor="end">8</text>
<line x1="451.59999999999997" y1="33.2" x2="453.4" y2="33.2" stroke="#6e6e6e" stroke-width="0.6"/>
<text x="451.4" y="35.29" font-size="5.8" fill="#3a3a3a" stroke="#3a3a3a" stroke-width="0.07" text-anchor="end">6</text>
<line x1="451.59999999999997" y1="60.4" x2="453.4" y2="60.4" stroke="#6e6e6e" stroke-width="0.6"/>
<text x="451.4" y="62.49" font-size="5.8" fill="#3a3a3a" stroke="#3a3a3a" stroke-width="0.07" text-anchor="end">4</text>
<line x1="451.59999999999997" y1="88.0" x2="453.4" y2="88.0" stroke="#6e6e6e" stroke-width="0.6"/>
<text x="451.4" y="90.09" font-size="5.8" fill="#3a3a3a" stroke="#3a3a3a" stroke-width="0.07" text-anchor="end">2</text>
<path d="M466.50,6.00 L488.95,63.60 L511.40,81.40 L533.85,91.00 L556.30,96.60 L578.75,99.20 L601.20,101.00 L623.65,104.00 L646.10,105.20 L668.55,106.40" fill="none" stroke="#5790c8" stroke-width="0.78"/>
<rect x="465.60" y="5.10" width="1.8" height="1.8" fill="#5790c8"/>
<rect x="488.05" y="62.70" width="1.8" height="1.8" fill="#5790c8"/>
<rect x="510.50" y="80.50" width="1.8" height="1.8" fill="#5790c8"/>
<rect x="532.95" y="90.10" width="1.8" height="1.8" fill="#5790c8"/>
<rect x="555.40" y="95.70" width="1.8" height="1.8" fill="#5790c8"/>
<rect x="577.85" y="98.30" width="1.8" height="1.8" fill="#5790c8"/>
<rect x="600.30" y="100.10" width="1.8" height="1.8" fill="#5790c8"/>
<rect x="622.75" y="103.10" width="1.8" height="1.8" fill="#5790c8"/>
<rect x="645.20" y="104.30" width="1.8" height="1.8" fill="#5790c8"/>
<rect x="667.65" y="105.50" width="1.8" height="1.8" fill="#5790c8"/>
<text x="477.2" y="16.90" font-size="17.6" font-weight="bold" fill="#111">C</text>
<text transform="translate(442.00,55.0) rotate(-90) scale(0.847,1)" x="0" y="2.63" font-size="7.32" fill="#222" stroke="#222" stroke-width="0.05" text-anchor="middle">Total within sum of square</text>
<text transform="translate(569.6,123.09) scale(0.847,1)" x="0" y="0" font-size="7.20" fill="#262626" text-anchor="middle">Number of clusters</text>
<line x1="615.5" y1="81.5" x2="605.69" y2="94.07" stroke="#9b1b63" stroke-width="2.0" stroke-linecap="round"/>
<path d="M602.3,98.4 L603.93,90.79 L605.87,93.83 L609.29,94.98Z" fill="#9b1b63"/>
<path d="M14.3,341.8V446.9H226.2" fill="none" stroke="#6e6e6e" stroke-width="1.05"/>
<line x1="26.80" y1="446.9" x2="26.80" y2="448.7" stroke="#6e6e6e" stroke-width="0.6"/>
<text x="26.80" y="453.20" font-size="5.0" fill="#3a3a3a" stroke="#3a3a3a" stroke-width="0.07" text-anchor="middle">1</text>
<line x1="47.60" y1="446.9" x2="47.60" y2="448.7" stroke="#6e6e6e" stroke-width="0.6"/>
<text x="47.60" y="453.20" font-size="5.0" fill="#3a3a3a" stroke="#3a3a3a" stroke-width="0.07" text-anchor="middle">2</text>
<line x1="68.40" y1="446.9" x2="68.40" y2="448.7" stroke="#6e6e6e" stroke-width="0.6"/>
<text x="68.40" y="453.20" font-size="5.0" fill="#3a3a3a" stroke="#3a3a3a" stroke-width="0.07" text-anchor="middle">3</text>
<line x1="89.20" y1="446.9" x2="89.20" y2="448.7" stroke="#6e6e6e" stroke-width="0.6"/>
<text x="89.20" y="453.20" font-size="5.0" fill="#3a3a3a" stroke="#3a3a3a" stroke-width="0.07" text-anchor="middle">4</text>
<line x1="110.00" y1="446.9" x2="110.00" y2="448.7" stroke="#6e6e6e" stroke-width="0.6"/>
<text x="110.00" y="453.20" font-size="5.0" fill="#3a3a3a" stroke="#3a3a3a" stroke-width="0.07" text-anchor="middle">5</text>
<line x1="130.80" y1="446.9" x2="130.80" y2="448.7" stroke="#6e6e6e" stroke-width="0.6"/>
<text x="130.80" y="453.20" font-size="5.0" fill="#3a3a3a" stroke="#3a3a3a" stroke-width="0.07" text-anchor="middle">6</text>
<line x1="151.60" y1="446.9" x2="151.60" y2="448.7" stroke="#6e6e6e" stroke-width="0.6"/>
<text x="151.60" y="453.20" font-size="5.0" fill="#3a3a3a" stroke="#3a3a3a" stroke-width="0.07" text-anchor="middle">7</text>
<line x1="172.40" y1="446.9" x2="172.40" y2="448.7" stroke="#6e6e6e" stroke-width="0.6"/>
<text x="172.40" y="453.20" font-size="5.0" fill="#3a3a3a" stroke="#3a3a3a" stroke-width="0.07" text-anchor="middle">8</text>
<line x1="193.20" y1="446.9" x2="193.20" y2="448.7" stroke="#6e6e6e" stroke-width="0.6"/>
<text x="193.20" y="453.20" font-size="5.0" fill="#3a3a3a" stroke="#3a3a3a" stroke-width="0.07" text-anchor="middle">9</text>
<line x1="214.00" y1="446.9" x2="214.00" y2="448.7" stroke="#6e6e6e" stroke-width="0.6"/>
<text x="214.00" y="453.20" font-size="5.0" fill="#3a3a3a" stroke="#3a3a3a" stroke-width="0.07" text-anchor="middle">10</text>
<line x1="12.5" y1="368.7" x2="14.3" y2="368.7" stroke="#6e6e6e" stroke-width="0.6"/>
<text x="12.3" y="370.50" font-size="5.0" fill="#3a3a3a" stroke="#3a3a3a" stroke-width="0.07" text-anchor="end">9</text>
<line x1="12.5" y1="396.7" x2="14.3" y2="396.7" stroke="#6e6e6e" stroke-width="0.6"/>
<text x="12.3" y="398.50" font-size="5.0" fill="#3a3a3a" stroke="#3a3a3a" stroke-width="0.07" text-anchor="end">6</text>
<line x1="12.5" y1="424.0" x2="14.3" y2="424.0" stroke="#6e6e6e" stroke-width="0.6"/>
<text x="12.3" y="425.80" font-size="5.0" fill="#3a3a3a" stroke="#3a3a3a" stroke-width="0.07" text-anchor="end">3</text>
<path d="M26.80,346.00 L47.60,397.50 L68.40,423.30 L89.20,431.90 L110.00,434.70 L130.80,437.60 L151.60,438.20 L172.40,440.90 L193.20,442.20 L214.00,442.00" fill="none" stroke="#5790c8" stroke-width="0.78"/>
<rect x="25.90" y="345.10" width="1.8" height="1.8" fill="#5790c8"/>
<rect x="46.70" y="396.60" width="1.8" height="1.8" fill="#5790c8"/>
<rect x="67.50" y="422.40" width="1.8" height="1.8" fill="#5790c8"/>
<rect x="88.30" y="431.00" width="1.8" height="1.8" fill="#5790c8"/>
<rect x="109.10" y="433.80" width="1.8" height="1.8" fill="#5790c8"/>
<rect x="129.90" y="436.70" width="1.8" height="1.8" fill="#5790c8"/>
<rect x="150.70" y="437.30" width="1.8" height="1.8" fill="#5790c8"/>
<rect x="171.50" y="440.00" width="1.8" height="1.8" fill="#5790c8"/>
<rect x="192.30" y="441.30" width="1.8" height="1.8" fill="#5790c8"/>
<rect x="213.10" y="441.10" width="1.8" height="1.8" fill="#5790c8"/>
<text x="35.4" y="347.20" font-size="17.6" font-weight="bold" fill="#111">D</text>
<text transform="translate(3.70,396.3) rotate(-90) scale(0.847,1)" x="0" y="2.38" font-size="6.61" fill="#222" stroke="#222" stroke-width="0.05" text-anchor="middle">Total within sum of square</text>
<text transform="translate(117.9,460.22) scale(0.847,1)" x="0" y="0" font-size="6.43" fill="#262626" text-anchor="middle">Number of clusters</text>
<line x1="124.3" y1="414.1" x2="114.76" y2="426.45" stroke="#9b1b63" stroke-width="2.0" stroke-linecap="round"/>
<path d="M111.4,430.8 L112.99,423.18 L114.95,426.21 L118.37,427.34Z" fill="#9b1b63"/>
<path d="M247.6,341.2V446.9H453.5" fill="none" stroke="#6e6e6e" stroke-width="1.05"/>
<line x1="259.50" y1="446.9" x2="259.50" y2="448.7" stroke="#6e6e6e" stroke-width="0.6"/>
<text x="259.50" y="453.20" font-size="5.0" fill="#3a3a3a" stroke="#3a3a3a" stroke-width="0.07" text-anchor="middle">1</text>
<line x1="279.70" y1="446.9" x2="279.70" y2="448.7" stroke="#6e6e6e" stroke-width="0.6"/>
<text x="279.70" y="453.20" font-size="5.0" fill="#3a3a3a" stroke="#3a3a3a" stroke-width="0.07" text-anchor="middle">2</text>
<line x1="299.90" y1="446.9" x2="299.90" y2="448.7" stroke="#6e6e6e" stroke-width="0.6"/>
<text x="299.90" y="453.20" font-size="5.0" fill="#3a3a3a" stroke="#3a3a3a" stroke-width="0.07" text-anchor="middle">3</text>
<line x1="320.10" y1="446.9" x2="320.10" y2="448.7" stroke="#6e6e6e" stroke-width="0.6"/>
<text x="320.10" y="453.20" font-size="5.0" fill="#3a3a3a" stroke="#3a3a3a" stroke-width="0.07" text-anchor="middle">4</text>
<line x1="340.30" y1="446.9" x2="340.30" y2="448.7" stroke="#6e6e6e" stroke-width="0.6"/>
<text x="340.30" y="453.20" font-size="5.0" fill="#3a3a3a" stroke="#3a3a3a" stroke-width="0.07" text-anchor="middle">5</text>
<line x1="360.50" y1="446.9" x2="360.50" y2="448.7" stroke="#6e6e6e" stroke-width="0.6"/>
<text x="360.50" y="453.20" font-size="5.0" fill="#3a3a3a" stroke="#3a3a3a" stroke-width="0.07" text-anchor="middle">6</text>
<line x1="380.70" y1="446.9" x2="380.70" y2="448.7" stroke="#6e6e6e" stroke-width="0.6"/>
<text x="380.70" y="453.20" font-size="5.0" fill="#3a3a3a" stroke="#3a3a3a" stroke-width="0.07" text-anchor="middle">7</text>
<line x1="400.90" y1="446.9" x2="400.90" y2="448.7" stroke="#6e6e6e" stroke-width="0.6"/>
<text x="400.90" y="453.20" font-size="5.0" fill="#3a3a3a" stroke="#3a3a3a" stroke-width="0.07" text-anchor="middle">8</text>
<line x1="421.10" y1="446.9" x2="421.10" y2="448.7" stroke="#6e6e6e" stroke-width="0.6"/>
<text x="421.10" y="453.20" font-size="5.0" fill="#3a3a3a" stroke="#3a3a3a" stroke-width="0.07" text-anchor="middle">9</text>
<line x1="441.30" y1="446.9" x2="441.30" y2="448.7" stroke="#6e6e6e" stroke-width="0.6"/>
<text x="441.30" y="453.20" font-size="5.0" fill="#3a3a3a" stroke="#3a3a3a" stroke-width="0.07" text-anchor="middle">10</text>
<line x1="245.79999999999998" y1="364.3" x2="247.6" y2="364.3" stroke="#6e6e6e" stroke-width="0.6"/>
<text x="245.6" y="366.10" font-size="5.0" fill="#3a3a3a" stroke="#3a3a3a" stroke-width="0.07" text-anchor="end">0.75</text>
<line x1="245.79999999999998" y1="391.5" x2="247.6" y2="391.5" stroke="#6e6e6e" stroke-width="0.6"/>
<text x="245.6" y="393.30" font-size="5.0" fill="#3a3a3a" stroke="#3a3a3a" stroke-width="0.07" text-anchor="end">0.50</text>
<line x1="245.79999999999998" y1="418.6" x2="247.6" y2="418.6" stroke="#6e6e6e" stroke-width="0.6"/>
<text x="245.6" y="420.40" font-size="5.0" fill="#3a3a3a" stroke="#3a3a3a" stroke-width="0.07" text-anchor="end">0.25</text>
<line x1="245.79999999999998" y1="445.8" x2="247.6" y2="445.8" stroke="#6e6e6e" stroke-width="0.6"/>
<text x="245.6" y="447.60" font-size="5.0" fill="#3a3a3a" stroke="#3a3a3a" stroke-width="0.07" text-anchor="end">0.00</text>
<path d="M259.50,345.70 L279.70,401.70 L299.90,420.30 L320.10,427.70 L340.30,430.80 L360.50,434.60 L380.70,435.40 L400.90,436.50 L421.10,435.90 L441.30,441.80" fill="none" stroke="#5790c8" stroke-width="0.78"/>
<rect x="258.60" y="344.80" width="1.8" height="1.8" fill="#5790c8"/>
<rect x="278.80" y="400.80" width="1.8" height="1.8" fill="#5790c8"/>
<rect x="299.00" y="419.40" width="1.8" height="1.8" fill="#5790c8"/>
<rect x="319.20" y="426.80" width="1.8" height="1.8" fill="#5790c8"/>
<rect x="339.40" y="429.90" width="1.8" height="1.8" fill="#5790c8"/>
<rect x="359.60" y="433.70" width="1.8" height="1.8" fill="#5790c8"/>
<rect x="379.80" y="434.50" width="1.8" height="1.8" fill="#5790c8"/>
<rect x="400.00" y="435.60" width="1.8" height="1.8" fill="#5790c8"/>
<rect x="420.20" y="435.00" width="1.8" height="1.8" fill="#5790c8"/>
<rect x="440.40" y="440.90" width="1.8" height="1.8" fill="#5790c8"/>
<text x="268.6" y="347.20" font-size="17.6" font-weight="bold" fill="#111">E</text>
<text transform="translate(230.50,395.0) rotate(-90) scale(0.847,1)" x="0" y="2.38" font-size="6.61" fill="#222" stroke="#222" stroke-width="0.05" text-anchor="middle">Total within sum of square</text>
<text transform="translate(348.1,459.92) scale(0.847,1)" x="0" y="0" font-size="6.43" fill="#262626" text-anchor="middle">Number of clusters</text>
<line x1="353.7" y1="410.3" x2="344.14" y2="422.83" stroke="#9b1b63" stroke-width="2.0" stroke-linecap="round"/>
<path d="M340.8,427.2 L342.34,419.57 L344.32,422.59 L347.75,423.70Z" fill="#9b1b63"/>
<path d="M472.6,341.2V446.9H681.6" fill="none" stroke="#6e6e6e" stroke-width="1.05"/>
<line x1="485.00" y1="446.9" x2="485.00" y2="448.7" stroke="#6e6e6e" stroke-width="0.6"/>
<text x="485.00" y="453.20" font-size="5.0" fill="#3a3a3a" stroke="#3a3a3a" stroke-width="0.07" text-anchor="middle">1</text>
<line x1="505.48" y1="446.9" x2="505.48" y2="448.7" stroke="#6e6e6e" stroke-width="0.6"/>
<text x="505.48" y="453.20" font-size="5.0" fill="#3a3a3a" stroke="#3a3a3a" stroke-width="0.07" text-anchor="middle">2</text>
<line x1="525.96" y1="446.9" x2="525.96" y2="448.7" stroke="#6e6e6e" stroke-width="0.6"/>
<text x="525.96" y="453.20" font-size="5.0" fill="#3a3a3a" stroke="#3a3a3a" stroke-width="0.07" text-anchor="middle">3</text>
<line x1="546.44" y1="446.9" x2="546.44" y2="448.7" stroke="#6e6e6e" stroke-width="0.6"/>
<text x="546.44" y="453.20" font-size="5.0" fill="#3a3a3a" stroke="#3a3a3a" stroke-width="0.07" text-anchor="middle">4</text>
<line x1="566.92" y1="446.9" x2="566.92" y2="448.7" stroke="#6e6e6e" stroke-width="0.6"/>
<text x="566.92" y="453.20" font-size="5.0" fill="#3a3a3a" stroke="#3a3a3a" stroke-width="0.07" text-anchor="middle">5</text>
<line x1="587.40" y1="446.9" x2="587.40" y2="448.7" stroke="#6e6e6e" stroke-width="0.6"/>
<text x="587.40" y="453.20" font-size="5.0" fill="#3a3a3a" stroke="#3a3a3a" stroke-width="0.07" text-anchor="middle">6</text>
<line x1="607.88" y1="446.9" x2="607.88" y2="448.7" stroke="#6e6e6e" stroke-width="0.6"/>
<text x="607.88" y="453.20" font-size="5.0" fill="#3a3a3a" stroke="#3a3a3a" stroke-width="0.07" text-anchor="middle">7</text>
<line x1="628.36" y1="446.9" x2="628.36" y2="448.7" stroke="#6e6e6e" stroke-width="0.6"/>
<text x="628.36" y="453.20" font-size="5.0" fill="#3a3a3a" stroke="#3a3a3a" stroke-width="0.07" text-anchor="middle">8</text>
<line x1="648.84" y1="446.9" x2="648.84" y2="448.7" stroke="#6e6e6e" stroke-width="0.6"/>
<text x="648.84" y="453.20" font-size="5.0" fill="#3a3a3a" stroke="#3a3a3a" stroke-width="0.07" text-anchor="middle">9</text>
<line x1="669.32" y1="446.9" x2="669.32" y2="448.7" stroke="#6e6e6e" stroke-width="0.6"/>
<text x="669.32" y="453.20" font-size="5.0" fill="#3a3a3a" stroke="#3a3a3a" stroke-width="0.07" text-anchor="middle">10</text>
<line x1="470.8" y1="357.6" x2="472.6" y2="357.6" stroke="#6e6e6e" stroke-width="0.6"/>
<text x="470.6" y="359.40" font-size="5.0" fill="#3a3a3a" stroke="#3a3a3a" stroke-width="0.07" text-anchor="end">0.6</text>
<line x1="470.8" y1="387.5" x2="472.6" y2="387.5" stroke="#6e6e6e" stroke-width="0.6"/>
<text x="470.6" y="389.30" font-size="5.0" fill="#3a3a3a" stroke="#3a3a3a" stroke-width="0.07" text-anchor="end">0.4</text>
<line x1="470.8" y1="417.5" x2="472.6" y2="417.5" stroke="#6e6e6e" stroke-width="0.6"/>
<text x="470.6" y="419.30" font-size="5.0" fill="#3a3a3a" stroke="#3a3a3a" stroke-width="0.07" text-anchor="end">0.2</text>
<path d="M485.00,345.70 L505.48,399.60 L525.96,421.50 L546.44,428.90 L566.92,433.00 L587.40,437.60 L607.88,441.20 L628.36,441.60 L648.84,442.20 L669.32,438.00" fill="none" stroke="#5790c8" stroke-width="0.78"/>
<rect x="484.10" y="344.80" width="1.8" height="1.8" fill="#5790c8"/>
<rect x="504.58" y="398.70" width="1.8" height="1.8" fill="#5790c8"/>
<rect x="525.06" y="420.60" width="1.8" height="1.8" fill="#5790c8"/>
<rect x="545.54" y="428.00" width="1.8" height="1.8" fill="#5790c8"/>
<rect x="566.02" y="432.10" width="1.8" height="1.8" fill="#5790c8"/>
<rect x="586.50" y="436.70" width="1.8" height="1.8" fill="#5790c8"/>
<rect x="606.98" y="440.30" width="1.8" height="1.8" fill="#5790c8"/>
<rect x="627.46" y="440.70" width="1.8" height="1.8" fill="#5790c8"/>
<rect x="647.94" y="441.30" width="1.8" height="1.8" fill="#5790c8"/>
<rect x="668.42" y="437.10" width="1.8" height="1.8" fill="#5790c8"/>
<text x="493.2" y="347.20" font-size="17.6" font-weight="bold" fill="#111">F</text>
<text transform="translate(458.60,393.2) rotate(-90) scale(0.847,1)" x="0" y="2.38" font-size="6.61" fill="#222" stroke="#222" stroke-width="0.05" text-anchor="middle">Total within sum of square</text>
<text transform="translate(577.7,461.22) scale(0.847,1)" x="0" y="0" font-size="6.43" fill="#262626" text-anchor="middle">Number of clusters</text>
<line x1="581.2" y1="412.8" x2="571.64" y2="425.33" stroke="#9b1b63" stroke-width="2.0" stroke-linecap="round"/>
<path d="M568.3,429.7 L569.84,422.07 L571.82,425.09 L575.25,426.20Z" fill="#9b1b63"/>
</svg>
</body></html>
